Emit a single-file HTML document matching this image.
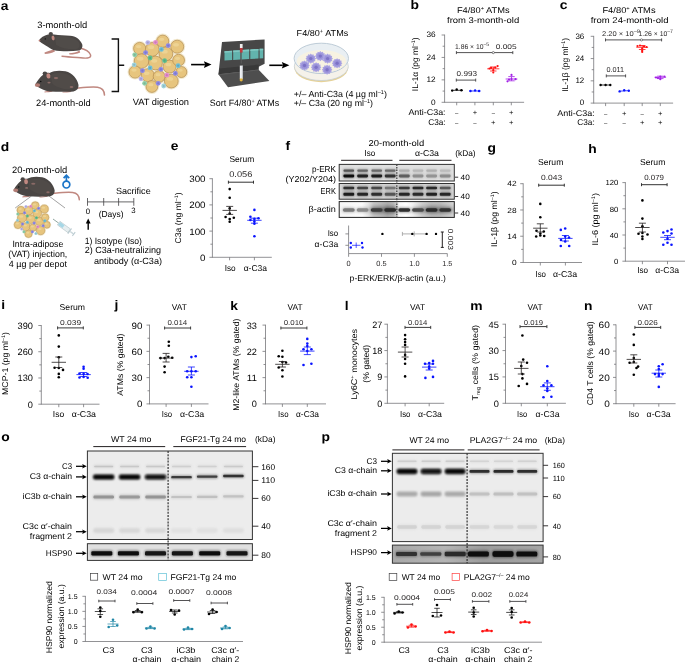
<!DOCTYPE html><html><head><meta charset="utf-8"><style>html,body{margin:0;padding:0;background:#fff;}svg{display:block;will-change:transform;}text{font-family:"Liberation Sans",sans-serif;text-rendering:geometricPrecision;}</style></head><body>
<svg width="685" height="664" viewBox="0 0 685 664">
<defs>
<filter id="blur0" x="-20%" y="-100%" width="140%" height="300%"><feGaussianBlur stdDeviation="0.55"/></filter>
<filter id="blur1" x="-20%" y="-100%" width="140%" height="300%"><feGaussianBlur stdDeviation="0.8"/></filter>
<filter id="blur2" x="-20%" y="-100%" width="140%" height="300%"><feGaussianBlur stdDeviation="1.1 0.9"/></filter>
<filter id="blur3" x="-50%" y="-50%" width="200%" height="200%"><feGaussianBlur stdDeviation="3"/></filter>
<filter id="blur5" x="-50%" y="-50%" width="200%" height="200%"><feGaussianBlur stdDeviation="5"/></filter>
</defs>
<rect width="685" height="664" fill="#fff"/>
<text transform="translate(0.80,9.70) scale(1.1,1)" x="0" y="0" font-size="12.6" font-weight="bold" fill="#000">a</text>
<text x="37.20" y="28.00" font-size="9.2" textLength="50.00" lengthAdjust="spacingAndGlyphs">3-month-old</text>
<text x="36.00" y="106.00" font-size="9.2" textLength="54.60" lengthAdjust="spacingAndGlyphs">24-month-old</text>
<g transform="translate(39.0,40.2) scale(1.0)">
<path d="M41,7.8 C46,9 50,11 51.5,14.5 C52.5,17.5 49,18.2 44,17.8 C38,17.3 30,16.8 23,16" fill="none" stroke="#c08880" stroke-width="1.4" stroke-linecap="round"/>
<path d="M5.5,12.4 C8,11.2 11,10.4 14.5,9.2 L16.2,11 C13,12.8 9.5,13.4 5.8,13.7 Z" fill="#c08880"/>
<path d="M30,13 C34,13 37.5,12 40.5,10.2 L41.2,12.2 C37.5,13.8 34,14.4 30.5,14.3 Z" fill="#c08880"/>
<path d="M0,0 C1.5,-2.2 5,-4.6 9,-5.6 C11,-6.4 13,-6.4 15,-5.6 C20,-5 26,-4.8 31,-4.5 C37,-4 41,-1 43.2,4 C44,7 42.5,9.5 40,10.4 C34,11.2 27,11.2 21,10.9 C16,10.6 13,9.6 11,8 C8,6 5,4.6 3,3.1 C1.5,2 0.3,1.2 0,0 Z" fill="#4a4644"/>
<path d="M16,-3.5 C24,-4.5 34,-3.5 39.5,1.5 C41.5,5 40.5,8 37,9 C30,9.5 22,8 17,4.5 Z" fill="#55504d" opacity="0.6"/>
<ellipse cx="11.8" cy="-6.4" rx="2.1" ry="1.9" fill="#4a4644"/>
<ellipse cx="14.1" cy="-2.2" rx="1.5" ry="2.4" fill="#c08880" transform="rotate(-12 14.1 -2.2)"/>
<circle cx="6.3" cy="-1.3" r="0.7" fill="#111"/>
<circle cx="0.5" cy="0.4" r="0.9" fill="#b8766e"/>
</g>
<g transform="translate(35.5,84.1) scale(1.0)">
<path d="M41.5,4.2 C48,3.5 56,2.5 62,3.2 C66.5,3.8 68.8,6.5 69,11" fill="none" stroke="#c08880" stroke-width="1.5" stroke-linecap="round"/>
<path d="M9,7.5 C11,7 14,6.5 16,6 L17,7.5 C14.5,8.3 12,8.4 9,8.4 Z" fill="#c08880"/>
<path d="M27,7.6 C30,7.6 33,7 35,6.4 L35.6,7.8 C33,8.4 30,8.5 27,8.5 Z" fill="#c08880"/>
<path d="M0,0 C2,-3.5 4.5,-7 8,-9.5 C10,-11 12,-11.5 14,-11.2 C18,-13.5 24,-14 30,-12.8 C37,-11 42,-5 43,1 C43.3,4.5 41.5,6.5 38,7.3 C32,7.8 22,7.8 14,7.3 C9,6.5 5,4.5 2.5,2.8 C1,1.8 0.2,1 0,0 Z" fill="#4a4644"/>
<path d="M15,-9 C22,-12.5 32,-11.5 37.5,-6 C41,-2 41,3 37,5 C30,6 22,4 17,0 Z" fill="#55504d" opacity="0.55"/>
<ellipse cx="9.4" cy="-10.6" rx="2.3" ry="2.1" fill="#4a4644"/>
<ellipse cx="12.9" cy="-8.2" rx="2" ry="2.7" fill="#c08880" transform="rotate(-10 12.9 -8.2)"/>
<circle cx="5.2" cy="-2.6" r="0.8" fill="#111"/>
<ellipse cx="2.0" cy="1.0" rx="2.7" ry="1.9" fill="#b27c74"/>
<ellipse cx="20.5" cy="-6" rx="2.2" ry="1.1" fill="#8a6a66"/>
<ellipse cx="13.5" cy="-1.5" rx="1.6" ry="0.9" fill="#8a6a66"/>
<ellipse cx="36" cy="3" rx="1.8" ry="1" fill="#8a6a66"/>
</g>
<path d="M111.6,39 H118.4 V91.5 H111.6 M118.4,65.3 H124.2" fill="none" stroke="#111" stroke-width="1.4"/>
<circle cx="139.70" cy="48.50" r="7.60" fill="#f3ead0"/>
<circle cx="152.30" cy="49.40" r="8.40" fill="#f3ead0"/>
<circle cx="162.70" cy="41.20" r="7.60" fill="#f3ead0"/>
<circle cx="177.20" cy="46.70" r="8.00" fill="#f3ead0"/>
<circle cx="165.90" cy="53.90" r="8.40" fill="#f3ead0"/>
<circle cx="141.50" cy="61.10" r="8.80" fill="#f3ead0"/>
<circle cx="155.50" cy="63.00" r="8.40" fill="#f3ead0"/>
<circle cx="169.50" cy="66.60" r="8.00" fill="#f3ead0"/>
<circle cx="178.60" cy="60.20" r="7.40" fill="#f3ead0"/>
<circle cx="135.10" cy="72.00" r="7.60" fill="#f3ead0"/>
<circle cx="147.80" cy="75.20" r="8.00" fill="#f3ead0"/>
<circle cx="159.10" cy="76.50" r="7.40" fill="#f3ead0"/>
<circle cx="171.30" cy="81.10" r="8.40" fill="#f3ead0"/>
<circle cx="181.30" cy="72.00" r="7.00" fill="#f3ead0"/>
<circle cx="151.90" cy="86.50" r="7.40" fill="#f3ead0"/>
<circle cx="139.70" cy="48.50" r="6.10" fill="#e7c57e" stroke="#b38d50" stroke-width="0.70"/>
<ellipse cx="138.62" cy="46.61" rx="2.70" ry="1.62" fill="#efd699" opacity="0.8"/>
<circle cx="152.30" cy="49.40" r="6.90" fill="#e7c57e" stroke="#b38d50" stroke-width="0.70"/>
<ellipse cx="151.06" cy="47.23" rx="3.10" ry="1.86" fill="#efd699" opacity="0.8"/>
<circle cx="162.70" cy="41.20" r="6.10" fill="#e7c57e" stroke="#b38d50" stroke-width="0.70"/>
<ellipse cx="161.62" cy="39.31" rx="2.70" ry="1.62" fill="#efd699" opacity="0.8"/>
<circle cx="177.20" cy="46.70" r="6.50" fill="#e7c57e" stroke="#b38d50" stroke-width="0.70"/>
<ellipse cx="176.04" cy="44.67" rx="2.90" ry="1.74" fill="#efd699" opacity="0.8"/>
<circle cx="165.90" cy="53.90" r="6.90" fill="#e7c57e" stroke="#b38d50" stroke-width="0.70"/>
<ellipse cx="164.66" cy="51.73" rx="3.10" ry="1.86" fill="#efd699" opacity="0.8"/>
<circle cx="141.50" cy="61.10" r="7.30" fill="#e7c57e" stroke="#b38d50" stroke-width="0.70"/>
<ellipse cx="140.18" cy="58.79" rx="3.30" ry="1.98" fill="#efd699" opacity="0.8"/>
<circle cx="155.50" cy="63.00" r="6.90" fill="#e7c57e" stroke="#b38d50" stroke-width="0.70"/>
<ellipse cx="154.26" cy="60.83" rx="3.10" ry="1.86" fill="#efd699" opacity="0.8"/>
<circle cx="169.50" cy="66.60" r="6.50" fill="#e7c57e" stroke="#b38d50" stroke-width="0.70"/>
<ellipse cx="168.34" cy="64.57" rx="2.90" ry="1.74" fill="#efd699" opacity="0.8"/>
<circle cx="178.60" cy="60.20" r="5.90" fill="#e7c57e" stroke="#b38d50" stroke-width="0.70"/>
<ellipse cx="177.56" cy="58.38" rx="2.60" ry="1.56" fill="#efd699" opacity="0.8"/>
<circle cx="135.10" cy="72.00" r="6.10" fill="#e7c57e" stroke="#b38d50" stroke-width="0.70"/>
<ellipse cx="134.02" cy="70.11" rx="2.70" ry="1.62" fill="#efd699" opacity="0.8"/>
<circle cx="147.80" cy="75.20" r="6.50" fill="#e7c57e" stroke="#b38d50" stroke-width="0.70"/>
<ellipse cx="146.64" cy="73.17" rx="2.90" ry="1.74" fill="#efd699" opacity="0.8"/>
<circle cx="159.10" cy="76.50" r="5.90" fill="#e7c57e" stroke="#b38d50" stroke-width="0.70"/>
<ellipse cx="158.06" cy="74.68" rx="2.60" ry="1.56" fill="#efd699" opacity="0.8"/>
<circle cx="171.30" cy="81.10" r="6.90" fill="#e7c57e" stroke="#b38d50" stroke-width="0.70"/>
<ellipse cx="170.06" cy="78.93" rx="3.10" ry="1.86" fill="#efd699" opacity="0.8"/>
<circle cx="181.30" cy="72.00" r="5.50" fill="#e7c57e" stroke="#b38d50" stroke-width="0.70"/>
<ellipse cx="180.34" cy="70.32" rx="2.40" ry="1.44" fill="#efd699" opacity="0.8"/>
<circle cx="151.90" cy="86.50" r="5.90" fill="#e7c57e" stroke="#b38d50" stroke-width="0.70"/>
<ellipse cx="150.86" cy="84.68" rx="2.60" ry="1.56" fill="#efd699" opacity="0.8"/>
<circle cx="155.50" cy="42.30" r="2.40" fill="#e58fcf"/>
<circle cx="155.50" cy="42.30" r="1.10" fill="#000" opacity="0.12"/>
<circle cx="166.80" cy="75.20" r="2.40" fill="#e58fcf"/>
<circle cx="166.80" cy="75.20" r="1.10" fill="#000" opacity="0.12"/>
<circle cx="168.20" cy="45.60" r="2.40" fill="#8e8ae8"/>
<circle cx="168.20" cy="45.60" r="1.10" fill="#000" opacity="0.12"/>
<circle cx="145.60" cy="52.60" r="2.40" fill="#8e8ae8"/>
<circle cx="145.60" cy="52.60" r="1.10" fill="#000" opacity="0.12"/>
<circle cx="160.90" cy="69.30" r="2.40" fill="#8e8ae8"/>
<circle cx="160.90" cy="69.30" r="1.10" fill="#000" opacity="0.12"/>
<circle cx="142.40" cy="70.70" r="2.40" fill="#8e8ae8"/>
<circle cx="142.40" cy="70.70" r="1.10" fill="#000" opacity="0.12"/>
<circle cx="175.40" cy="73.40" r="2.40" fill="#8e8ae8"/>
<circle cx="175.40" cy="73.40" r="1.10" fill="#000" opacity="0.12"/>
<circle cx="158.20" cy="83.30" r="2.40" fill="#8e8ae8"/>
<circle cx="158.20" cy="83.30" r="1.10" fill="#000" opacity="0.12"/>
<circle cx="147.80" cy="42.60" r="2.40" fill="#b9b5ec"/>
<circle cx="147.80" cy="42.60" r="1.10" fill="#000" opacity="0.12"/>
<circle cx="141.00" cy="78.80" r="2.40" fill="#b9b5ec"/>
<circle cx="141.00" cy="78.80" r="1.10" fill="#000" opacity="0.12"/>
<circle cx="161.40" cy="49.40" r="2.40" fill="#6fc0d8"/>
<circle cx="161.40" cy="49.40" r="1.10" fill="#000" opacity="0.12"/>
<circle cx="150.10" cy="67.90" r="2.40" fill="#6fc0d8"/>
<circle cx="150.10" cy="67.90" r="1.10" fill="#000" opacity="0.12"/>
<circle cx="178.10" cy="65.70" r="2.40" fill="#6fc0d8"/>
<circle cx="178.10" cy="65.70" r="1.10" fill="#000" opacity="0.12"/>
<circle cx="134.20" cy="64.80" r="2.40" fill="#9fd3dc"/>
<circle cx="134.20" cy="64.80" r="1.10" fill="#000" opacity="0.12"/>
<circle cx="163.70" cy="86.00" r="2.40" fill="#9fd3dc"/>
<circle cx="163.70" cy="86.00" r="1.10" fill="#000" opacity="0.12"/>
<circle cx="150.10" cy="58.00" r="2.40" fill="#5fbf8f"/>
<circle cx="150.10" cy="58.00" r="1.10" fill="#000" opacity="0.12"/>
<circle cx="164.60" cy="60.70" r="2.40" fill="#5fbf8f"/>
<circle cx="164.60" cy="60.70" r="1.10" fill="#000" opacity="0.12"/>
<circle cx="134.70" cy="54.80" r="2.40" fill="#8fd0aa"/>
<circle cx="134.70" cy="54.80" r="1.10" fill="#000" opacity="0.12"/>
<circle cx="144.60" cy="83.30" r="2.40" fill="#8fd0aa"/>
<circle cx="144.60" cy="83.30" r="1.10" fill="#000" opacity="0.12"/>
<text x="132.70" y="105.40" font-size="9.2" textLength="56.30" lengthAdjust="spacingAndGlyphs">VAT digestion</text>
<line x1="191.1" y1="64.6" x2="204.9" y2="64.6" stroke="#000" stroke-width="1.6"/>
<path d="M211.5,64.6 L203.9,61.3 L205.1,64.6 L203.9,67.89999999999999 Z" fill="#000"/>
<path d="M222,41.9 L264.6,39.5 L264.6,63.8 L258.7,66.8 L258.5,69.7 L218.4,74.5 Z" fill="#474747"/>
<path d="M219.6,68.6 L258.7,64.6 L258.5,69.7 L218.6,74.3 Z" fill="#393939"/>
<path d="M218.4,74.3 L258.4,69.6 L269.4,81.1 L228.0,87.2 Z" fill="#4e4e4e"/>
<path d="M218.6,74.2 L258.4,69.6 L259,70.4 L219.2,75.2 Z" fill="#5a5a5a"/>
<path d="M224.50,51.20 L232.10,50.70 L232.10,60.07 L224.50,60.50 Z" fill="#62b3ad"/>
<path d="M224.50,51.20 L232.10,50.70 L232.10,52.30 L224.50,52.80 Z" fill="#80c8c2"/>
<path d="M233.20,50.62 L240.40,50.15 L240.40,59.61 L233.20,60.01 Z" fill="#62b3ad"/>
<path d="M233.20,50.62 L240.40,50.15 L240.40,51.75 L233.20,52.22 Z" fill="#80c8c2"/>
<path d="M241.50,50.07 L249.20,49.56 L249.20,59.11 L241.50,59.55 Z" fill="#62b3ad"/>
<path d="M241.50,50.07 L249.20,49.56 L249.20,51.16 L241.50,51.67 Z" fill="#80c8c2"/>
<path d="M250.30,49.49 L258.50,48.94 L258.50,58.59 L250.30,59.05 Z" fill="#62b3ad"/>
<path d="M250.30,49.49 L258.50,48.94 L258.50,50.54 L250.30,51.09 Z" fill="#80c8c2"/>
<path d="M259.60,48.87 L263.20,48.63 L263.20,58.33 L259.60,58.53 Z" fill="#62b3ad"/>
<path d="M259.60,48.87 L263.20,48.63 L263.20,50.23 L259.60,50.47 Z" fill="#80c8c2"/>
<rect x="239.9" y="44" width="2.7" height="4.2" fill="#eeeeee"/>
<rect x="239.9" y="48" width="2.7" height="4.6" fill="#c2383d"/>
<line x1="241.25" y1="52.5" x2="241.25" y2="63.5" stroke="#6a6a6a" stroke-width="0.6"/>
<rect x="239.8" y="65.6" width="2.8" height="13.6" fill="#eef0f3"/>
<rect x="241.8" y="65.6" width="0.8" height="13.6" fill="#c8ccd2"/>
<path d="M239.8,78.6 H242.6 V80.8 Q241.2,82.4 239.8,80.8 Z" fill="#e4b53c"/>
<line x1="269.3" y1="65.3" x2="282.79999999999995" y2="65.3" stroke="#000" stroke-width="1.6"/>
<path d="M289.4,65.3 L281.79999999999995,62.0 L282.99999999999994,65.3 L281.79999999999995,68.6 Z" fill="#000"/>
<text x="209.80" y="106.00" font-size="9.2" textLength="69.40" lengthAdjust="spacingAndGlyphs">Sort F4/80<tspan dy="-3.2" font-size="5.5">+</tspan><tspan dy="3.2"> ATMs</tspan></text>
<ellipse cx="321.3" cy="67.6" rx="27" ry="14.6" fill="#e6d298"/>
<ellipse cx="321.3" cy="66.2" rx="27" ry="14.3" fill="#f5f2ea" stroke="#c3ced8" stroke-width="0.7"/>
<ellipse cx="321.3" cy="58.4" rx="27.2" ry="15.2" fill="#e9eff3" stroke="#b7c6d2" stroke-width="0.9"/>
<ellipse cx="321.5" cy="61.3" rx="24.8" ry="11.2" fill="#f7f2e2"/>
<polygon points="316.10,58.60 314.95,59.66 315.39,61.12 313.84,61.49 313.45,62.96 311.91,62.55 310.80,63.63 309.69,62.55 308.15,62.96 307.76,61.49 306.21,61.12 306.65,59.66 305.50,58.60 306.65,57.54 306.21,56.08 307.76,55.71 308.15,54.24 309.69,54.65 310.80,53.57 311.91,54.65 313.45,54.24 313.84,55.71 315.39,56.08 314.95,57.54" fill="#aaa3e2"/>
<circle cx="310.8" cy="58.6" r="3.2" fill="#9b93da"/>
<circle cx="310.8" cy="58.6" r="1.7" fill="#7d72c6"/>
<polygon points="325.60,56.10 324.45,57.16 324.89,58.62 323.34,58.99 322.95,60.46 321.41,60.05 320.30,61.13 319.19,60.05 317.65,60.46 317.26,58.99 315.71,58.62 316.15,57.16 315.00,56.10 316.15,55.04 315.71,53.58 317.26,53.21 317.65,51.74 319.19,52.15 320.30,51.07 321.41,52.15 322.95,51.74 323.34,53.21 324.89,53.58 324.45,55.04" fill="#aaa3e2"/>
<circle cx="320.3" cy="56.1" r="3.2" fill="#9b93da"/>
<circle cx="320.3" cy="56.1" r="1.7" fill="#7d72c6"/>
<polygon points="332.90,58.60 331.75,59.66 332.19,61.12 330.64,61.49 330.25,62.96 328.71,62.55 327.60,63.63 326.49,62.55 324.95,62.96 324.56,61.49 323.01,61.12 323.45,59.66 322.30,58.60 323.45,57.54 323.01,56.08 324.56,55.71 324.95,54.24 326.49,54.65 327.60,53.57 328.71,54.65 330.25,54.24 330.64,55.71 332.19,56.08 331.75,57.54" fill="#aaa3e2"/>
<circle cx="327.6" cy="58.6" r="3.2" fill="#9b93da"/>
<circle cx="327.6" cy="58.6" r="1.7" fill="#7d72c6"/>
<polygon points="342.40,63.30 341.25,64.36 341.69,65.82 340.14,66.19 339.75,67.66 338.21,67.25 337.10,68.33 335.99,67.25 334.45,67.66 334.06,66.19 332.51,65.82 332.95,64.36 331.80,63.30 332.95,62.24 332.51,60.78 334.06,60.41 334.45,58.94 335.99,59.35 337.10,58.27 338.21,59.35 339.75,58.94 340.14,60.41 341.69,60.78 341.25,62.24" fill="#aaa3e2"/>
<circle cx="337.1" cy="63.3" r="3.2" fill="#9b93da"/>
<circle cx="337.1" cy="63.3" r="1.7" fill="#7d72c6"/>
<polygon points="309.80,65.50 308.65,66.56 309.09,68.02 307.54,68.39 307.15,69.86 305.61,69.45 304.50,70.53 303.39,69.45 301.85,69.86 301.46,68.39 299.91,68.02 300.35,66.56 299.20,65.50 300.35,64.44 299.91,62.98 301.46,62.61 301.85,61.14 303.39,61.55 304.50,60.47 305.61,61.55 307.15,61.14 307.54,62.61 309.09,62.98 308.65,64.44" fill="#aaa3e2"/>
<circle cx="304.5" cy="65.5" r="3.2" fill="#9b93da"/>
<circle cx="304.5" cy="65.5" r="1.7" fill="#7d72c6"/>
<polygon points="321.40,67.30 320.25,68.36 320.69,69.82 319.14,70.19 318.75,71.66 317.21,71.25 316.10,72.33 314.99,71.25 313.45,71.66 313.06,70.19 311.51,69.82 311.95,68.36 310.80,67.30 311.95,66.24 311.51,64.78 313.06,64.41 313.45,62.94 314.99,63.35 316.10,62.27 317.21,63.35 318.75,62.94 319.14,64.41 320.69,64.78 320.25,66.24" fill="#aaa3e2"/>
<circle cx="316.1" cy="67.3" r="3.2" fill="#9b93da"/>
<circle cx="316.1" cy="67.3" r="1.7" fill="#7d72c6"/>
<polygon points="332.40,69.70 331.25,70.76 331.69,72.22 330.14,72.59 329.75,74.06 328.21,73.65 327.10,74.73 325.99,73.65 324.45,74.06 324.06,72.59 322.51,72.22 322.95,70.76 321.80,69.70 322.95,68.64 322.51,67.18 324.06,66.81 324.45,65.34 325.99,65.75 327.10,64.67 328.21,65.75 329.75,65.34 330.14,66.81 331.69,67.18 331.25,68.64" fill="#aaa3e2"/>
<circle cx="327.1" cy="69.7" r="3.2" fill="#9b93da"/>
<circle cx="327.1" cy="69.7" r="1.7" fill="#7d72c6"/>
<text x="296.60" y="36.10" font-size="8.6" textLength="51.70" lengthAdjust="spacingAndGlyphs">F4/80<tspan dy="-3.2" font-size="5.5">+</tspan><tspan dy="3.2"> ATMs</tspan></text>
<text x="293.80" y="96.70" font-size="8.8" textLength="93.10" lengthAdjust="spacingAndGlyphs">+/– Anti-C3a (4 µg ml<tspan dy="-3.2" font-size="5.5">–1</tspan><tspan dy="3.2">)</tspan></text>
<text x="293.80" y="105.90" font-size="8.8" textLength="79.20" lengthAdjust="spacingAndGlyphs">+/– C3a (20 ng ml<tspan dy="-3.2" font-size="5.5">–1</tspan><tspan dy="3.2">)</tspan></text>
<text transform="translate(0.80,150.50) scale(1.1,1)" x="0" y="0" font-size="12.6" font-weight="bold" fill="#000">d</text>
<text x="12.00" y="173.00" font-size="9.2" textLength="55.20" lengthAdjust="spacingAndGlyphs">20-month-old</text>
<g transform="translate(13.8,189.4) scale(0.95)">
<path d="M41.5,4.2 C48,3.5 56,2.5 62,3.2 C66.5,3.8 68.8,6.5 69,11" fill="none" stroke="#c08880" stroke-width="1.5" stroke-linecap="round"/>
<path d="M9,7.5 C11,7 14,6.5 16,6 L17,7.5 C14.5,8.3 12,8.4 9,8.4 Z" fill="#c08880"/>
<path d="M27,7.6 C30,7.6 33,7 35,6.4 L35.6,7.8 C33,8.4 30,8.5 27,8.5 Z" fill="#c08880"/>
<path d="M0,0 C2,-3.5 4.5,-7 8,-9.5 C10,-11 12,-11.5 14,-11.2 C18,-13.5 24,-14 30,-12.8 C37,-11 42,-5 43,1 C43.3,4.5 41.5,6.5 38,7.3 C32,7.8 22,7.8 14,7.3 C9,6.5 5,4.5 2.5,2.8 C1,1.8 0.2,1 0,0 Z" fill="#4a4644"/>
<path d="M15,-9 C22,-12.5 32,-11.5 37.5,-6 C41,-2 41,3 37,5 C30,6 22,4 17,0 Z" fill="#55504d" opacity="0.55"/>
<ellipse cx="9.4" cy="-10.6" rx="2.3" ry="2.1" fill="#4a4644"/>
<ellipse cx="12.9" cy="-8.2" rx="2" ry="2.7" fill="#c08880" transform="rotate(-10 12.9 -8.2)"/>
<circle cx="5.2" cy="-2.6" r="0.8" fill="#111"/>
<ellipse cx="2.0" cy="1.0" rx="2.7" ry="1.9" fill="#b27c74"/>
<ellipse cx="20.5" cy="-6" rx="2.2" ry="1.1" fill="#8a6a66"/>
<ellipse cx="13.5" cy="-1.5" rx="1.6" ry="0.9" fill="#8a6a66"/>
<ellipse cx="36" cy="3" rx="1.8" ry="1" fill="#8a6a66"/>
</g>
<g fill="none" stroke="#1b75c8" stroke-width="1.7"><circle cx="66.4" cy="184.6" r="3.4"/><path d="M66.4,181.2 V175.6 M63.6,178.2 L66.4,175.3 L69.2,178.2"/></g>
<line x1="31.50" y1="196.00" x2="15.20" y2="208.00" stroke="#444" stroke-width="0.5"/>
<line x1="49.00" y1="196.00" x2="65.00" y2="208.00" stroke="#444" stroke-width="0.5"/>
<circle cx="20.88" cy="210.13" r="4.74" fill="#f3ead0"/>
<circle cx="28.74" cy="210.69" r="5.24" fill="#f3ead0"/>
<circle cx="35.23" cy="205.57" r="4.74" fill="#f3ead0"/>
<circle cx="44.28" cy="209.00" r="4.99" fill="#f3ead0"/>
<circle cx="37.23" cy="213.50" r="5.24" fill="#f3ead0"/>
<circle cx="22.00" cy="217.99" r="5.49" fill="#f3ead0"/>
<circle cx="30.74" cy="219.18" r="5.24" fill="#f3ead0"/>
<circle cx="39.48" cy="221.42" r="4.99" fill="#f3ead0"/>
<circle cx="45.16" cy="217.43" r="4.62" fill="#f3ead0"/>
<circle cx="18.01" cy="224.79" r="4.74" fill="#f3ead0"/>
<circle cx="25.93" cy="226.79" r="4.99" fill="#f3ead0"/>
<circle cx="32.99" cy="227.60" r="4.62" fill="#f3ead0"/>
<circle cx="40.60" cy="230.47" r="5.24" fill="#f3ead0"/>
<circle cx="46.84" cy="224.79" r="4.37" fill="#f3ead0"/>
<circle cx="28.49" cy="233.84" r="4.62" fill="#f3ead0"/>
<circle cx="20.88" cy="210.13" r="3.81" fill="#e7c57e" stroke="#b38d50" stroke-width="0.47"/>
<ellipse cx="20.20" cy="208.95" rx="1.69" ry="1.01" fill="#efd699" opacity="0.8"/>
<circle cx="28.74" cy="210.69" r="4.31" fill="#e7c57e" stroke="#b38d50" stroke-width="0.47"/>
<ellipse cx="27.97" cy="209.33" rx="1.93" ry="1.16" fill="#efd699" opacity="0.8"/>
<circle cx="35.23" cy="205.57" r="3.81" fill="#e7c57e" stroke="#b38d50" stroke-width="0.47"/>
<ellipse cx="34.56" cy="204.39" rx="1.69" ry="1.01" fill="#efd699" opacity="0.8"/>
<circle cx="44.28" cy="209.00" r="4.06" fill="#e7c57e" stroke="#b38d50" stroke-width="0.47"/>
<ellipse cx="43.56" cy="207.74" rx="1.81" ry="1.09" fill="#efd699" opacity="0.8"/>
<circle cx="37.23" cy="213.50" r="4.31" fill="#e7c57e" stroke="#b38d50" stroke-width="0.47"/>
<ellipse cx="36.46" cy="212.14" rx="1.93" ry="1.16" fill="#efd699" opacity="0.8"/>
<circle cx="22.00" cy="217.99" r="4.56" fill="#e7c57e" stroke="#b38d50" stroke-width="0.47"/>
<ellipse cx="21.18" cy="216.55" rx="2.06" ry="1.24" fill="#efd699" opacity="0.8"/>
<circle cx="30.74" cy="219.18" r="4.31" fill="#e7c57e" stroke="#b38d50" stroke-width="0.47"/>
<ellipse cx="29.97" cy="217.82" rx="1.93" ry="1.16" fill="#efd699" opacity="0.8"/>
<circle cx="39.48" cy="221.42" r="4.06" fill="#e7c57e" stroke="#b38d50" stroke-width="0.47"/>
<ellipse cx="38.75" cy="220.16" rx="1.81" ry="1.09" fill="#efd699" opacity="0.8"/>
<circle cx="45.16" cy="217.43" r="3.68" fill="#e7c57e" stroke="#b38d50" stroke-width="0.47"/>
<ellipse cx="44.51" cy="216.29" rx="1.62" ry="0.97" fill="#efd699" opacity="0.8"/>
<circle cx="18.01" cy="224.79" r="3.81" fill="#e7c57e" stroke="#b38d50" stroke-width="0.47"/>
<ellipse cx="17.33" cy="223.61" rx="1.69" ry="1.01" fill="#efd699" opacity="0.8"/>
<circle cx="25.93" cy="226.79" r="4.06" fill="#e7c57e" stroke="#b38d50" stroke-width="0.47"/>
<ellipse cx="25.21" cy="225.52" rx="1.81" ry="1.09" fill="#efd699" opacity="0.8"/>
<circle cx="32.99" cy="227.60" r="3.68" fill="#e7c57e" stroke="#b38d50" stroke-width="0.47"/>
<ellipse cx="32.34" cy="226.47" rx="1.62" ry="0.97" fill="#efd699" opacity="0.8"/>
<circle cx="40.60" cy="230.47" r="4.31" fill="#e7c57e" stroke="#b38d50" stroke-width="0.47"/>
<ellipse cx="39.83" cy="229.12" rx="1.93" ry="1.16" fill="#efd699" opacity="0.8"/>
<circle cx="46.84" cy="224.79" r="3.43" fill="#e7c57e" stroke="#b38d50" stroke-width="0.47"/>
<ellipse cx="46.24" cy="223.74" rx="1.50" ry="0.90" fill="#efd699" opacity="0.8"/>
<circle cx="28.49" cy="233.84" r="3.68" fill="#e7c57e" stroke="#b38d50" stroke-width="0.47"/>
<ellipse cx="27.84" cy="232.71" rx="1.62" ry="0.97" fill="#efd699" opacity="0.8"/>
<circle cx="30.74" cy="206.26" r="1.50" fill="#e58fcf"/>
<circle cx="30.74" cy="206.26" r="0.69" fill="#000" opacity="0.12"/>
<circle cx="37.79" cy="226.79" r="1.50" fill="#e58fcf"/>
<circle cx="37.79" cy="226.79" r="0.69" fill="#000" opacity="0.12"/>
<circle cx="38.67" cy="208.32" r="1.50" fill="#8e8ae8"/>
<circle cx="38.67" cy="208.32" r="0.69" fill="#000" opacity="0.12"/>
<circle cx="24.56" cy="212.69" r="1.50" fill="#8e8ae8"/>
<circle cx="24.56" cy="212.69" r="0.69" fill="#000" opacity="0.12"/>
<circle cx="34.11" cy="223.11" r="1.50" fill="#8e8ae8"/>
<circle cx="34.11" cy="223.11" r="0.69" fill="#000" opacity="0.12"/>
<circle cx="22.56" cy="223.98" r="1.50" fill="#8e8ae8"/>
<circle cx="22.56" cy="223.98" r="0.69" fill="#000" opacity="0.12"/>
<circle cx="43.16" cy="225.67" r="1.50" fill="#8e8ae8"/>
<circle cx="43.16" cy="225.67" r="0.69" fill="#000" opacity="0.12"/>
<circle cx="32.42" cy="231.85" r="1.50" fill="#8e8ae8"/>
<circle cx="32.42" cy="231.85" r="0.69" fill="#000" opacity="0.12"/>
<circle cx="25.93" cy="206.44" r="1.50" fill="#b9b5ec"/>
<circle cx="25.93" cy="206.44" r="0.69" fill="#000" opacity="0.12"/>
<circle cx="21.69" cy="229.04" r="1.50" fill="#b9b5ec"/>
<circle cx="21.69" cy="229.04" r="0.69" fill="#000" opacity="0.12"/>
<circle cx="34.42" cy="210.69" r="1.50" fill="#6fc0d8"/>
<circle cx="34.42" cy="210.69" r="0.69" fill="#000" opacity="0.12"/>
<circle cx="27.37" cy="222.23" r="1.50" fill="#6fc0d8"/>
<circle cx="27.37" cy="222.23" r="0.69" fill="#000" opacity="0.12"/>
<circle cx="44.84" cy="220.86" r="1.50" fill="#6fc0d8"/>
<circle cx="44.84" cy="220.86" r="0.69" fill="#000" opacity="0.12"/>
<circle cx="17.45" cy="220.30" r="1.50" fill="#9fd3dc"/>
<circle cx="17.45" cy="220.30" r="0.69" fill="#000" opacity="0.12"/>
<circle cx="35.86" cy="233.53" r="1.50" fill="#9fd3dc"/>
<circle cx="35.86" cy="233.53" r="0.69" fill="#000" opacity="0.12"/>
<circle cx="27.37" cy="216.06" r="1.50" fill="#5fbf8f"/>
<circle cx="27.37" cy="216.06" r="0.69" fill="#000" opacity="0.12"/>
<circle cx="36.42" cy="217.74" r="1.50" fill="#5fbf8f"/>
<circle cx="36.42" cy="217.74" r="0.69" fill="#000" opacity="0.12"/>
<circle cx="17.76" cy="214.06" r="1.50" fill="#8fd0aa"/>
<circle cx="17.76" cy="214.06" r="0.69" fill="#000" opacity="0.12"/>
<circle cx="23.94" cy="231.85" r="1.50" fill="#8fd0aa"/>
<circle cx="23.94" cy="231.85" r="0.69" fill="#000" opacity="0.12"/>
<g transform="translate(53,219) rotate(36)"><line x1="0" y1="0" x2="7" y2="0" stroke="#5a7a70" stroke-width="0.6"/><rect x="7" y="-2.2" width="13" height="4.4" fill="#e6eef0" stroke="#a9b9be" stroke-width="0.5"/><rect x="7.5" y="-1.8" width="5.5" height="3.6" fill="#a6d7e6"/><rect x="20" y="-3.2" width="1.2" height="6.4" fill="#b8c9cf"/><rect x="21.2" y="-0.7" width="4" height="1.4" fill="#c8d6da"/><rect x="25.2" y="-2.4" width="1" height="4.8" fill="#b8c9cf"/></g>
<text x="37.90" y="246.90" font-size="9.0" text-anchor="middle" textLength="50.90" lengthAdjust="spacingAndGlyphs">Intra-adipose</text>
<text x="37.80" y="257.10" font-size="9.0" text-anchor="middle" textLength="59.00" lengthAdjust="spacingAndGlyphs">(VAT) injection,</text>
<text x="37.90" y="266.70" font-size="9.0" text-anchor="middle" textLength="58.20" lengthAdjust="spacingAndGlyphs">4 µg per depot</text>
<path d="M87.5,201.9 H133.8 M87.5,198 V205.8 M103.7,198 V205.8 M118.6,198 V205.8 M133.8,198 V205.8" stroke="#414042" stroke-width="0.8" fill="none"/>
<text x="115.90" y="194.20" font-size="9.0" textLength="34.80" lengthAdjust="spacingAndGlyphs">Sacrifice</text>
<text x="88.00" y="213.50" font-size="7.8" text-anchor="middle">0</text>
<text x="133.30" y="212.80" font-size="7.8" text-anchor="middle">3</text>
<text x="98.70" y="216.80" font-size="8.6" textLength="24.90" lengthAdjust="spacingAndGlyphs">(Days)</text>
<path d="M88.2,229.8 V222" stroke="#000" stroke-width="1.4"/><path d="M88.2,218.6 L85.8,223.5 L90.6,223.5 Z" fill="#000"/>
<text x="84.70" y="243.50" font-size="9.0" textLength="57.30" lengthAdjust="spacingAndGlyphs">1) Isotype (Iso)</text>
<text x="84.70" y="253.40" font-size="9.0" textLength="76.30" lengthAdjust="spacingAndGlyphs">2) C3a-neutralizing</text>
<text x="94.00" y="263.60" font-size="9.0" textLength="68.00" lengthAdjust="spacingAndGlyphs">antibody (α-C3a)</text>
<text transform="translate(410.40,9.40) scale(1.1,1)" x="0" y="0" font-size="12.6" font-weight="bold" fill="#000">b</text>
<text x="456.90" y="12.90" font-size="8.4" textLength="52.80" lengthAdjust="spacingAndGlyphs">F4/80<tspan dy="-3" font-size="5.2">+</tspan><tspan dy="3"> ATMs</tspan></text>
<text x="447.00" y="23.10" font-size="8.4" textLength="72.20" lengthAdjust="spacingAndGlyphs">from 3-month-old</text>
<line x1="444.60" y1="34.60" x2="444.60" y2="102.70" stroke="#6d6e71" stroke-width="0.75"/>
<line x1="441.60" y1="102.30" x2="444.60" y2="102.30" stroke="#6d6e71" stroke-width="0.75"/>
<text x="435.60" y="104.67" font-size="7.9" text-anchor="end" textLength="4.60" lengthAdjust="spacingAndGlyphs">0</text>
<line x1="442.60" y1="91.08" x2="444.60" y2="91.08" stroke="#6d6e71" stroke-width="0.75"/>
<line x1="441.60" y1="79.87" x2="444.60" y2="79.87" stroke="#6d6e71" stroke-width="0.75"/>
<text x="435.60" y="82.24" font-size="7.9" text-anchor="end" textLength="9.20" lengthAdjust="spacingAndGlyphs">12</text>
<line x1="442.60" y1="68.65" x2="444.60" y2="68.65" stroke="#6d6e71" stroke-width="0.75"/>
<line x1="441.60" y1="57.43" x2="444.60" y2="57.43" stroke="#6d6e71" stroke-width="0.75"/>
<text x="435.60" y="59.80" font-size="7.9" text-anchor="end" textLength="9.20" lengthAdjust="spacingAndGlyphs">24</text>
<line x1="442.60" y1="46.22" x2="444.60" y2="46.22" stroke="#6d6e71" stroke-width="0.75"/>
<line x1="441.60" y1="35.00" x2="444.60" y2="35.00" stroke="#6d6e71" stroke-width="0.75"/>
<text x="435.60" y="37.37" font-size="7.9" text-anchor="end" textLength="9.20" lengthAdjust="spacingAndGlyphs">36</text>
<line x1="444.60" y1="102.30" x2="524.10" y2="102.30" stroke="#6d6e71" stroke-width="0.75"/>
<line x1="456.70" y1="102.30" x2="456.70" y2="105.30" stroke="#6d6e71" stroke-width="0.75"/>
<line x1="474.90" y1="102.30" x2="474.90" y2="105.30" stroke="#6d6e71" stroke-width="0.75"/>
<line x1="493.30" y1="102.30" x2="493.30" y2="105.30" stroke="#6d6e71" stroke-width="0.75"/>
<line x1="511.30" y1="102.30" x2="511.30" y2="105.30" stroke="#6d6e71" stroke-width="0.75"/>
<text x="417.88" y="64.30" font-size="8.4" text-anchor="middle" textLength="53.70" lengthAdjust="spacingAndGlyphs" transform="rotate(-90 417.88 64.30)">IL-1α (pg ml<tspan dy="-3" font-size="5.2">–1</tspan><tspan dy="3">)</tspan></text>
<line x1="456.40" y1="52.60" x2="512.80" y2="52.60" stroke="#414042" stroke-width="0.9"/>
<line x1="456.40" y1="51.10" x2="456.40" y2="54.10" stroke="#414042" stroke-width="0.9"/>
<line x1="512.80" y1="51.10" x2="512.80" y2="54.10" stroke="#414042" stroke-width="0.9"/>
<circle cx="493.3" cy="52.6" r="1.1" fill="#fff" stroke="#414042" stroke-width="0.6"/>
<text x="455.00" y="48.80" font-size="6.9" fill="#2b2829" textLength="34.20" lengthAdjust="spacingAndGlyphs">1.86 × 10<tspan dy="-3" font-size="5.2">–5</tspan></text>
<text x="495.70" y="48.80" font-size="6.9" fill="#2b2829" textLength="20.90" lengthAdjust="spacingAndGlyphs">0.005</text>
<line x1="456.30" y1="80.10" x2="475.70" y2="80.10" stroke="#414042" stroke-width="0.9"/>
<line x1="456.30" y1="78.60" x2="456.30" y2="81.60" stroke="#414042" stroke-width="0.9"/>
<line x1="475.70" y1="78.60" x2="475.70" y2="81.60" stroke="#414042" stroke-width="0.9"/>
<text x="456.60" y="76.40" font-size="7.2" fill="#2b2829" textLength="20.40" lengthAdjust="spacingAndGlyphs">0.993</text>
<circle cx="452.20" cy="90.60" r="1.2" fill="#000"/>
<circle cx="456.70" cy="89.50" r="1.2" fill="#000"/>
<circle cx="461.40" cy="90.30" r="1.2" fill="#000"/>
<circle cx="470.50" cy="91.00" r="1.2" fill="#0a14ff"/>
<circle cx="475.10" cy="90.40" r="1.2" fill="#0a14ff"/>
<circle cx="479.10" cy="91.00" r="1.2" fill="#0a14ff"/>
<line x1="451.00" y1="90.30" x2="463.00" y2="90.30" stroke="#000" stroke-width="0.8"/>
<line x1="469.00" y1="91.00" x2="480.50" y2="91.00" stroke="#0a14ff" stroke-width="0.8"/>
<circle cx="497.60" cy="66.10" r="1.1" fill="#ff1010"/>
<circle cx="495.20" cy="67.60" r="1.1" fill="#ff1010"/>
<circle cx="491.10" cy="67.90" r="1.1" fill="#ff1010"/>
<circle cx="493.30" cy="72.50" r="1.1" fill="#ff1010"/>
<circle cx="493.30" cy="70.20" r="1.1" fill="#ff1010"/>
<circle cx="489.50" cy="68.50" r="1.1" fill="#ff1010"/>
<line x1="487.20" y1="68.80" x2="499.40" y2="68.80" stroke="#ff1010" stroke-width="0.8"/>
<line x1="493.30" y1="67.00" x2="493.30" y2="71.00" stroke="#ff1010" stroke-width="0.8"/>
<line x1="490.10" y1="67.00" x2="496.50" y2="67.00" stroke="#ff1010" stroke-width="0.8"/>
<line x1="490.10" y1="71.00" x2="496.50" y2="71.00" stroke="#ff1010" stroke-width="0.8"/>
<circle cx="511.50" cy="74.90" r="1.1" fill="#a21fe6"/>
<circle cx="507.50" cy="81.30" r="1.1" fill="#a21fe6"/>
<circle cx="515.50" cy="79.20" r="1.1" fill="#a21fe6"/>
<circle cx="511.50" cy="79.00" r="1.1" fill="#a21fe6"/>
<circle cx="509.00" cy="79.50" r="1.1" fill="#a21fe6"/>
<line x1="505.60" y1="79.00" x2="517.40" y2="79.00" stroke="#a21fe6" stroke-width="0.8"/>
<line x1="511.50" y1="76.60" x2="511.50" y2="80.80" stroke="#a21fe6" stroke-width="0.8"/>
<line x1="508.30" y1="76.60" x2="514.70" y2="76.60" stroke="#a21fe6" stroke-width="0.8"/>
<line x1="508.30" y1="80.80" x2="514.70" y2="80.80" stroke="#a21fe6" stroke-width="0.8"/>
<text x="445.60" y="115.30" font-size="8.4" text-anchor="end" textLength="37.20" lengthAdjust="spacingAndGlyphs">Anti-C3a:</text>
<text x="445.60" y="124.50" font-size="8.4" text-anchor="end" textLength="17.40" lengthAdjust="spacingAndGlyphs">C3a:</text>
<text x="456.70" y="115.30" font-size="6.0" text-anchor="middle">–</text>
<text x="456.70" y="124.50" font-size="6.0" text-anchor="middle">–</text>
<text x="474.90" y="115.30" font-size="7.6" text-anchor="middle">+</text>
<text x="474.90" y="124.50" font-size="6.0" text-anchor="middle">–</text>
<text x="493.30" y="115.30" font-size="6.0" text-anchor="middle">–</text>
<text x="493.30" y="124.50" font-size="7.6" text-anchor="middle">+</text>
<text x="511.30" y="115.30" font-size="7.6" text-anchor="middle">+</text>
<text x="511.30" y="124.50" font-size="7.6" text-anchor="middle">+</text>
<text transform="translate(559.70,9.40) scale(1.1,1)" x="0" y="0" font-size="12.6" font-weight="bold" fill="#000">c</text>
<text x="602.40" y="12.90" font-size="8.4" textLength="53.20" lengthAdjust="spacingAndGlyphs">F4/80<tspan dy="-3" font-size="5.2">+</tspan><tspan dy="3"> ATMs</tspan></text>
<text x="590.70" y="23.00" font-size="8.4" textLength="77.80" lengthAdjust="spacingAndGlyphs">from 24-month-old</text>
<line x1="593.70" y1="35.90" x2="593.70" y2="103.50" stroke="#6d6e71" stroke-width="0.75"/>
<line x1="590.70" y1="103.10" x2="593.70" y2="103.10" stroke="#6d6e71" stroke-width="0.75"/>
<text x="584.30" y="105.47" font-size="7.9" text-anchor="end" textLength="4.45" lengthAdjust="spacingAndGlyphs">0</text>
<line x1="591.70" y1="91.97" x2="593.70" y2="91.97" stroke="#6d6e71" stroke-width="0.75"/>
<line x1="590.70" y1="80.83" x2="593.70" y2="80.83" stroke="#6d6e71" stroke-width="0.75"/>
<text x="584.30" y="83.20" font-size="7.9" text-anchor="end" textLength="8.90" lengthAdjust="spacingAndGlyphs">12</text>
<line x1="591.70" y1="69.70" x2="593.70" y2="69.70" stroke="#6d6e71" stroke-width="0.75"/>
<line x1="590.70" y1="58.57" x2="593.70" y2="58.57" stroke="#6d6e71" stroke-width="0.75"/>
<text x="584.30" y="60.94" font-size="7.9" text-anchor="end" textLength="8.90" lengthAdjust="spacingAndGlyphs">24</text>
<line x1="591.70" y1="47.43" x2="593.70" y2="47.43" stroke="#6d6e71" stroke-width="0.75"/>
<line x1="590.70" y1="36.30" x2="593.70" y2="36.30" stroke="#6d6e71" stroke-width="0.75"/>
<text x="584.30" y="38.67" font-size="7.9" text-anchor="end" textLength="8.90" lengthAdjust="spacingAndGlyphs">36</text>
<line x1="593.70" y1="103.10" x2="673.10" y2="103.10" stroke="#6d6e71" stroke-width="0.75"/>
<line x1="605.60" y1="103.10" x2="605.60" y2="106.10" stroke="#6d6e71" stroke-width="0.75"/>
<line x1="624.20" y1="103.10" x2="624.20" y2="106.10" stroke="#6d6e71" stroke-width="0.75"/>
<line x1="642.20" y1="103.10" x2="642.20" y2="106.10" stroke="#6d6e71" stroke-width="0.75"/>
<line x1="660.30" y1="103.10" x2="660.30" y2="106.10" stroke="#6d6e71" stroke-width="0.75"/>
<text x="567.68" y="64.90" font-size="8.4" text-anchor="middle" textLength="53.70" lengthAdjust="spacingAndGlyphs" transform="rotate(-90 567.68 64.90)">IL-1β (pg ml<tspan dy="-3" font-size="5.2">–1</tspan><tspan dy="3">)</tspan></text>
<line x1="605.50" y1="39.90" x2="661.60" y2="39.90" stroke="#414042" stroke-width="0.9"/>
<line x1="605.50" y1="38.40" x2="605.50" y2="41.40" stroke="#414042" stroke-width="0.9"/>
<line x1="661.60" y1="38.40" x2="661.60" y2="41.40" stroke="#414042" stroke-width="0.9"/>
<circle cx="641.5" cy="39.9" r="1.1" fill="#fff" stroke="#414042" stroke-width="0.6"/>
<text x="602.00" y="35.80" font-size="6.9" fill="#2b2829" textLength="38.00" lengthAdjust="spacingAndGlyphs">2.20 × 10<tspan dy="-3" font-size="5.2">–9</tspan></text>
<text x="638.50" y="35.80" font-size="6.9" fill="#2b2829" textLength="34.50" lengthAdjust="spacingAndGlyphs">1.26 × 10<tspan dy="-3" font-size="5.2">–7</tspan></text>
<line x1="606.30" y1="75.90" x2="625.60" y2="75.90" stroke="#414042" stroke-width="0.9"/>
<line x1="606.30" y1="74.40" x2="606.30" y2="77.40" stroke="#414042" stroke-width="0.9"/>
<line x1="625.60" y1="74.40" x2="625.60" y2="77.40" stroke="#414042" stroke-width="0.9"/>
<text x="606.40" y="72.20" font-size="7.2" fill="#2b2829" textLength="17.60" lengthAdjust="spacingAndGlyphs">0.011</text>
<circle cx="600.60" cy="85.00" r="1.2" fill="#000"/>
<circle cx="605.60" cy="85.00" r="1.2" fill="#000"/>
<circle cx="610.30" cy="85.00" r="1.2" fill="#000"/>
<line x1="600.00" y1="85.00" x2="611.00" y2="85.00" stroke="#000" stroke-width="0.8"/>
<circle cx="619.60" cy="91.40" r="1.2" fill="#0a14ff"/>
<circle cx="624.20" cy="90.30" r="1.2" fill="#0a14ff"/>
<circle cx="628.80" cy="90.80" r="1.2" fill="#0a14ff"/>
<line x1="619.00" y1="91.20" x2="629.50" y2="90.60" stroke="#0a14ff" stroke-width="0.8"/>
<circle cx="637.50" cy="46.00" r="1.1" fill="#ff1010"/>
<circle cx="640.00" cy="45.50" r="1.1" fill="#ff1010"/>
<circle cx="644.00" cy="46.50" r="1.1" fill="#ff1010"/>
<circle cx="646.50" cy="47.00" r="1.1" fill="#ff1010"/>
<circle cx="642.20" cy="48.50" r="1.1" fill="#ff1010"/>
<circle cx="642.20" cy="50.50" r="1.1" fill="#ff1010"/>
<circle cx="642.20" cy="51.90" r="1.1" fill="#ff1010"/>
<line x1="636.30" y1="47.30" x2="648.10" y2="47.30" stroke="#ff1010" stroke-width="0.8"/>
<line x1="642.20" y1="45.50" x2="642.20" y2="49.50" stroke="#ff1010" stroke-width="0.8"/>
<line x1="638.90" y1="45.50" x2="645.50" y2="45.50" stroke="#ff1010" stroke-width="0.8"/>
<line x1="638.90" y1="49.50" x2="645.50" y2="49.50" stroke="#ff1010" stroke-width="0.8"/>
<circle cx="656.00" cy="77.50" r="1.1" fill="#a21fe6"/>
<circle cx="660.30" cy="76.50" r="1.1" fill="#a21fe6"/>
<circle cx="664.50" cy="76.50" r="1.1" fill="#a21fe6"/>
<circle cx="660.30" cy="79.20" r="1.1" fill="#a21fe6"/>
<circle cx="658.00" cy="78.00" r="1.1" fill="#a21fe6"/>
<line x1="654.50" y1="77.30" x2="666.10" y2="77.30" stroke="#a21fe6" stroke-width="0.8"/>
<line x1="660.30" y1="76.20" x2="660.30" y2="78.60" stroke="#a21fe6" stroke-width="0.8"/>
<line x1="657.10" y1="76.20" x2="663.50" y2="76.20" stroke="#a21fe6" stroke-width="0.8"/>
<line x1="657.10" y1="78.60" x2="663.50" y2="78.60" stroke="#a21fe6" stroke-width="0.8"/>
<text x="594.70" y="115.80" font-size="8.4" text-anchor="end" textLength="37.40" lengthAdjust="spacingAndGlyphs">Anti-C3a:</text>
<text x="594.70" y="124.90" font-size="8.4" text-anchor="end" textLength="17.40" lengthAdjust="spacingAndGlyphs">C3a:</text>
<text x="605.60" y="115.80" font-size="6.0" text-anchor="middle">–</text>
<text x="605.60" y="124.90" font-size="6.0" text-anchor="middle">–</text>
<text x="624.20" y="115.80" font-size="7.6" text-anchor="middle">+</text>
<text x="624.20" y="124.90" font-size="6.0" text-anchor="middle">–</text>
<text x="642.20" y="115.80" font-size="6.0" text-anchor="middle">–</text>
<text x="642.20" y="124.90" font-size="7.6" text-anchor="middle">+</text>
<text x="660.30" y="115.80" font-size="7.6" text-anchor="middle">+</text>
<text x="660.30" y="124.90" font-size="7.6" text-anchor="middle">+</text>
<text transform="translate(170.80,150.00) scale(1.1,1)" x="0" y="0" font-size="12.6" font-weight="bold" fill="#000">e</text>
<text x="229.50" y="162.10" font-size="8.6" textLength="24.80" lengthAdjust="spacingAndGlyphs">Serum</text>
<text x="229.20" y="176.90" font-size="8.3" fill="#2b2829" textLength="23.10" lengthAdjust="spacingAndGlyphs">0.056</text>
<line x1="228.40" y1="182.20" x2="253.50" y2="182.20" stroke="#333" stroke-width="1.0"/>
<line x1="228.40" y1="180.70" x2="228.40" y2="183.70" stroke="#333" stroke-width="1.0"/>
<line x1="253.50" y1="180.70" x2="253.50" y2="183.70" stroke="#333" stroke-width="1.0"/>
<line x1="212.40" y1="178.30" x2="212.40" y2="257.70" stroke="#6d6e71" stroke-width="0.75"/>
<line x1="209.40" y1="257.30" x2="212.40" y2="257.30" stroke="#6d6e71" stroke-width="0.75"/>
<text x="205.60" y="260.70" font-size="9.2" text-anchor="end" textLength="5.47" lengthAdjust="spacingAndGlyphs">0</text>
<line x1="210.40" y1="244.20" x2="212.40" y2="244.20" stroke="#6d6e71" stroke-width="0.75"/>
<line x1="209.40" y1="231.10" x2="212.40" y2="231.10" stroke="#6d6e71" stroke-width="0.75"/>
<text x="205.60" y="234.50" font-size="9.2" text-anchor="end" textLength="16.41" lengthAdjust="spacingAndGlyphs">100</text>
<line x1="210.40" y1="218.00" x2="212.40" y2="218.00" stroke="#6d6e71" stroke-width="0.75"/>
<line x1="209.40" y1="204.90" x2="212.40" y2="204.90" stroke="#6d6e71" stroke-width="0.75"/>
<text x="205.60" y="208.30" font-size="9.2" text-anchor="end" textLength="16.41" lengthAdjust="spacingAndGlyphs">200</text>
<line x1="210.40" y1="191.80" x2="212.40" y2="191.80" stroke="#6d6e71" stroke-width="0.75"/>
<line x1="209.40" y1="178.70" x2="212.40" y2="178.70" stroke="#6d6e71" stroke-width="0.75"/>
<text x="205.60" y="182.10" font-size="9.2" text-anchor="end" textLength="16.41" lengthAdjust="spacingAndGlyphs">300</text>
<line x1="212.40" y1="257.30" x2="271.80" y2="257.30" stroke="#6d6e71" stroke-width="0.75"/>
<line x1="229.60" y1="257.30" x2="229.60" y2="260.30" stroke="#6d6e71" stroke-width="0.75"/>
<line x1="254.40" y1="257.30" x2="254.40" y2="260.30" stroke="#6d6e71" stroke-width="0.75"/>
<text x="224.70" y="270.50" font-size="8.6" textLength="11.00" lengthAdjust="spacingAndGlyphs">Iso</text>
<text x="243.70" y="270.50" font-size="8.6" textLength="23.30" lengthAdjust="spacingAndGlyphs">α-C3a</text>
<text x="180.88" y="217.90" font-size="8.4" text-anchor="middle" textLength="51.00" lengthAdjust="spacingAndGlyphs" transform="rotate(-90 180.88 217.90)">C3a (ng ml<tspan dy="-3" font-size="5.2">–1</tspan><tspan dy="3">)</tspan></text>
<circle cx="229.70" cy="189.10" r="1.3" fill="#000"/>
<circle cx="229.70" cy="197.70" r="1.3" fill="#000"/>
<circle cx="229.70" cy="208.40" r="1.3" fill="#000"/>
<circle cx="229.70" cy="213.50" r="1.3" fill="#000"/>
<circle cx="225.60" cy="217.00" r="1.3" fill="#000"/>
<circle cx="233.80" cy="217.80" r="1.3" fill="#000"/>
<circle cx="229.70" cy="219.10" r="1.3" fill="#000"/>
<circle cx="229.70" cy="221.80" r="1.3" fill="#000"/>
<line x1="222.50" y1="210.40" x2="236.90" y2="210.40" stroke="#231f20" stroke-width="0.8"/>
<line x1="229.70" y1="206.40" x2="229.70" y2="214.40" stroke="#231f20" stroke-width="0.8"/>
<line x1="226.20" y1="206.40" x2="233.20" y2="206.40" stroke="#231f20" stroke-width="0.8"/>
<line x1="226.20" y1="214.40" x2="233.20" y2="214.40" stroke="#231f20" stroke-width="0.8"/>
<circle cx="254.40" cy="209.90" r="1.3" fill="#0a14ff"/>
<circle cx="250.40" cy="216.70" r="1.3" fill="#0a14ff"/>
<circle cx="258.50" cy="218.20" r="1.3" fill="#0a14ff"/>
<circle cx="250.40" cy="219.90" r="1.3" fill="#0a14ff"/>
<circle cx="254.40" cy="218.90" r="1.3" fill="#0a14ff"/>
<circle cx="254.40" cy="221.60" r="1.3" fill="#0a14ff"/>
<circle cx="254.40" cy="223.70" r="1.3" fill="#0a14ff"/>
<circle cx="254.40" cy="236.30" r="1.3" fill="#0a14ff"/>
<line x1="247.20" y1="220.30" x2="261.60" y2="220.30" stroke="#0a14ff" stroke-width="0.8"/>
<line x1="254.40" y1="218.20" x2="254.40" y2="223.20" stroke="#0a14ff" stroke-width="0.8"/>
<line x1="250.90" y1="218.20" x2="257.90" y2="218.20" stroke="#0a14ff" stroke-width="0.8"/>
<line x1="250.90" y1="223.20" x2="257.90" y2="223.20" stroke="#0a14ff" stroke-width="0.8"/>
<text transform="translate(487.60,152.40) scale(1.1,1)" x="0" y="0" font-size="12.6" font-weight="bold" fill="#000">g</text>
<text x="538.00" y="165.30" font-size="8.6" textLength="25.30" lengthAdjust="spacingAndGlyphs">Serum</text>
<text x="541.00" y="180.40" font-size="7.4" fill="#2b2829" textLength="21.10" lengthAdjust="spacingAndGlyphs">0.043</text>
<line x1="538.70" y1="185.20" x2="564.30" y2="185.20" stroke="#333" stroke-width="1.0"/>
<line x1="538.70" y1="183.70" x2="538.70" y2="186.70" stroke="#333" stroke-width="1.0"/>
<line x1="564.30" y1="183.70" x2="564.30" y2="186.70" stroke="#333" stroke-width="1.0"/>
<line x1="523.20" y1="183.30" x2="523.20" y2="262.90" stroke="#6d6e71" stroke-width="0.75"/>
<line x1="520.20" y1="262.50" x2="523.20" y2="262.50" stroke="#6d6e71" stroke-width="0.75"/>
<text x="516.60" y="265.27" font-size="7.5" text-anchor="end" textLength="4.65" lengthAdjust="spacingAndGlyphs">0</text>
<line x1="521.20" y1="249.37" x2="523.20" y2="249.37" stroke="#6d6e71" stroke-width="0.75"/>
<line x1="520.20" y1="236.23" x2="523.20" y2="236.23" stroke="#6d6e71" stroke-width="0.75"/>
<text x="516.60" y="239.01" font-size="7.5" text-anchor="end" textLength="9.30" lengthAdjust="spacingAndGlyphs">14</text>
<line x1="521.20" y1="223.10" x2="523.20" y2="223.10" stroke="#6d6e71" stroke-width="0.75"/>
<line x1="520.20" y1="209.97" x2="523.20" y2="209.97" stroke="#6d6e71" stroke-width="0.75"/>
<text x="516.60" y="212.74" font-size="7.5" text-anchor="end" textLength="9.30" lengthAdjust="spacingAndGlyphs">28</text>
<line x1="521.20" y1="196.83" x2="523.20" y2="196.83" stroke="#6d6e71" stroke-width="0.75"/>
<line x1="520.20" y1="183.70" x2="523.20" y2="183.70" stroke="#6d6e71" stroke-width="0.75"/>
<text x="516.60" y="186.47" font-size="7.5" text-anchor="end" textLength="9.30" lengthAdjust="spacingAndGlyphs">42</text>
<line x1="523.20" y1="262.50" x2="582.00" y2="262.50" stroke="#6d6e71" stroke-width="0.75"/>
<line x1="540.30" y1="262.50" x2="540.30" y2="265.50" stroke="#6d6e71" stroke-width="0.75"/>
<line x1="565.40" y1="262.50" x2="565.40" y2="265.50" stroke="#6d6e71" stroke-width="0.75"/>
<text x="535.50" y="277.40" font-size="8.6" textLength="10.50" lengthAdjust="spacingAndGlyphs">Iso</text>
<text x="553.00" y="277.40" font-size="8.6" textLength="24.10" lengthAdjust="spacingAndGlyphs">α-C3a</text>
<text x="496.88" y="219.20" font-size="8.4" text-anchor="middle" textLength="55.50" lengthAdjust="spacingAndGlyphs" transform="rotate(-90 496.88 219.20)">IL-1β (pg ml<tspan dy="-3" font-size="5.2">–1</tspan><tspan dy="3">)</tspan></text>
<circle cx="540.30" cy="203.90" r="1.3" fill="#000"/>
<circle cx="540.30" cy="217.20" r="1.3" fill="#000"/>
<circle cx="536.50" cy="230.70" r="1.3" fill="#000"/>
<circle cx="543.80" cy="231.50" r="1.3" fill="#000"/>
<circle cx="540.30" cy="233.50" r="1.3" fill="#000"/>
<circle cx="536.20" cy="236.50" r="1.3" fill="#000"/>
<circle cx="540.30" cy="235.50" r="1.3" fill="#000"/>
<circle cx="544.20" cy="236.00" r="1.3" fill="#000"/>
<line x1="533.10" y1="228.20" x2="547.50" y2="228.20" stroke="#231f20" stroke-width="0.8"/>
<line x1="540.30" y1="223.80" x2="540.30" y2="232.00" stroke="#231f20" stroke-width="0.8"/>
<line x1="536.80" y1="223.80" x2="543.80" y2="223.80" stroke="#231f20" stroke-width="0.8"/>
<line x1="536.80" y1="232.00" x2="543.80" y2="232.00" stroke="#231f20" stroke-width="0.8"/>
<circle cx="560.80" cy="229.90" r="1.3" fill="#0a14ff"/>
<circle cx="565.20" cy="228.50" r="1.3" fill="#0a14ff"/>
<circle cx="565.20" cy="236.60" r="1.3" fill="#0a14ff"/>
<circle cx="561.00" cy="240.00" r="1.3" fill="#0a14ff"/>
<circle cx="569.00" cy="237.50" r="1.3" fill="#0a14ff"/>
<circle cx="560.80" cy="246.00" r="1.3" fill="#0a14ff"/>
<circle cx="569.20" cy="246.00" r="1.3" fill="#0a14ff"/>
<circle cx="565.20" cy="241.50" r="1.3" fill="#0a14ff"/>
<line x1="558.20" y1="238.40" x2="572.60" y2="238.40" stroke="#0a14ff" stroke-width="0.8"/>
<line x1="565.40" y1="235.50" x2="565.40" y2="241.00" stroke="#0a14ff" stroke-width="0.8"/>
<line x1="561.90" y1="235.50" x2="568.90" y2="235.50" stroke="#0a14ff" stroke-width="0.8"/>
<line x1="561.90" y1="241.00" x2="568.90" y2="241.00" stroke="#0a14ff" stroke-width="0.8"/>
<text transform="translate(588.30,152.90) scale(1.1,1)" x="0" y="0" font-size="12.6" font-weight="bold" fill="#000">h</text>
<text x="640.00" y="164.80" font-size="8.6" textLength="25.30" lengthAdjust="spacingAndGlyphs">Serum</text>
<text x="644.20" y="179.90" font-size="7.4" fill="#2b2829" textLength="19.80" lengthAdjust="spacingAndGlyphs">0.079</text>
<line x1="641.50" y1="184.70" x2="667.10" y2="184.70" stroke="#333" stroke-width="1.0"/>
<line x1="641.50" y1="183.20" x2="641.50" y2="186.20" stroke="#333" stroke-width="1.0"/>
<line x1="667.10" y1="183.20" x2="667.10" y2="186.20" stroke="#333" stroke-width="1.0"/>
<line x1="625.40" y1="182.20" x2="625.40" y2="261.60" stroke="#6d6e71" stroke-width="0.75"/>
<line x1="622.40" y1="261.20" x2="625.40" y2="261.20" stroke="#6d6e71" stroke-width="0.75"/>
<text x="618.40" y="263.94" font-size="7.4" text-anchor="end" textLength="4.30" lengthAdjust="spacingAndGlyphs">0</text>
<line x1="623.40" y1="248.10" x2="625.40" y2="248.10" stroke="#6d6e71" stroke-width="0.75"/>
<line x1="622.40" y1="235.00" x2="625.40" y2="235.00" stroke="#6d6e71" stroke-width="0.75"/>
<text x="618.40" y="237.74" font-size="7.4" text-anchor="end" textLength="8.60" lengthAdjust="spacingAndGlyphs">40</text>
<line x1="623.40" y1="221.90" x2="625.40" y2="221.90" stroke="#6d6e71" stroke-width="0.75"/>
<line x1="622.40" y1="208.80" x2="625.40" y2="208.80" stroke="#6d6e71" stroke-width="0.75"/>
<text x="618.40" y="211.54" font-size="7.4" text-anchor="end" textLength="8.60" lengthAdjust="spacingAndGlyphs">80</text>
<line x1="623.40" y1="195.70" x2="625.40" y2="195.70" stroke="#6d6e71" stroke-width="0.75"/>
<line x1="622.40" y1="182.60" x2="625.40" y2="182.60" stroke="#6d6e71" stroke-width="0.75"/>
<text x="618.40" y="185.34" font-size="7.4" text-anchor="end" textLength="12.90" lengthAdjust="spacingAndGlyphs">120</text>
<line x1="625.40" y1="261.20" x2="685.00" y2="261.20" stroke="#6d6e71" stroke-width="0.75"/>
<line x1="642.40" y1="261.20" x2="642.40" y2="264.20" stroke="#6d6e71" stroke-width="0.75"/>
<line x1="667.50" y1="261.20" x2="667.50" y2="264.20" stroke="#6d6e71" stroke-width="0.75"/>
<text x="637.30" y="273.40" font-size="8.6" textLength="10.80" lengthAdjust="spacingAndGlyphs">Iso</text>
<text x="655.30" y="273.40" font-size="8.6" textLength="23.70" lengthAdjust="spacingAndGlyphs">α-C3a</text>
<text x="598.28" y="219.30" font-size="8.4" text-anchor="middle" textLength="52.50" lengthAdjust="spacingAndGlyphs" transform="rotate(-90 598.28 219.30)">IL-6 (pg ml<tspan dy="-3" font-size="5.2">–1</tspan><tspan dy="3">)</tspan></text>
<circle cx="642.40" cy="200.40" r="1.3" fill="#000"/>
<circle cx="642.40" cy="218.60" r="1.3" fill="#000"/>
<circle cx="642.40" cy="226.20" r="1.3" fill="#000"/>
<circle cx="638.50" cy="233.80" r="1.3" fill="#000"/>
<circle cx="647.50" cy="234.50" r="1.3" fill="#000"/>
<circle cx="642.40" cy="233.00" r="1.3" fill="#000"/>
<circle cx="642.40" cy="236.50" r="1.3" fill="#000"/>
<circle cx="642.40" cy="239.00" r="1.3" fill="#000"/>
<line x1="635.20" y1="227.50" x2="649.60" y2="227.50" stroke="#231f20" stroke-width="0.8"/>
<line x1="642.40" y1="223.20" x2="642.40" y2="232.00" stroke="#231f20" stroke-width="0.8"/>
<line x1="638.90" y1="223.20" x2="645.90" y2="223.20" stroke="#231f20" stroke-width="0.8"/>
<line x1="638.90" y1="232.00" x2="645.90" y2="232.00" stroke="#231f20" stroke-width="0.8"/>
<circle cx="663.30" cy="232.50" r="1.3" fill="#0a14ff"/>
<circle cx="667.50" cy="231.10" r="1.3" fill="#0a14ff"/>
<circle cx="671.50" cy="229.50" r="1.3" fill="#0a14ff"/>
<circle cx="671.50" cy="233.50" r="1.3" fill="#0a14ff"/>
<circle cx="667.50" cy="238.80" r="1.3" fill="#0a14ff"/>
<circle cx="663.30" cy="244.70" r="1.3" fill="#0a14ff"/>
<circle cx="667.50" cy="242.80" r="1.3" fill="#0a14ff"/>
<circle cx="671.50" cy="244.70" r="1.3" fill="#0a14ff"/>
<line x1="660.30" y1="237.30" x2="674.70" y2="237.30" stroke="#0a14ff" stroke-width="0.8"/>
<line x1="667.50" y1="235.50" x2="667.50" y2="239.70" stroke="#0a14ff" stroke-width="0.8"/>
<line x1="664.00" y1="235.50" x2="671.00" y2="235.50" stroke="#0a14ff" stroke-width="0.8"/>
<line x1="664.00" y1="239.70" x2="671.00" y2="239.70" stroke="#0a14ff" stroke-width="0.8"/>
<text transform="translate(1.30,309.20) scale(1.1,1)" x="0" y="0" font-size="12.6" font-weight="bold" fill="#000">i</text>
<text x="59.60" y="309.60" font-size="8.5" textLength="25.50" lengthAdjust="spacingAndGlyphs">Serum</text>
<text x="60.00" y="324.80" font-size="7.0" fill="#2b2829" textLength="21.30" lengthAdjust="spacingAndGlyphs">0.039</text>
<line x1="57.60" y1="327.90" x2="83.30" y2="327.90" stroke="#3a3a3a" stroke-width="1.0"/>
<line x1="57.60" y1="326.40" x2="57.60" y2="329.40" stroke="#3a3a3a" stroke-width="1.0"/>
<line x1="83.30" y1="326.40" x2="83.30" y2="329.40" stroke="#3a3a3a" stroke-width="1.0"/>
<line x1="41.30" y1="325.10" x2="41.30" y2="404.60" stroke="#6d6e71" stroke-width="0.75"/>
<line x1="38.30" y1="404.20" x2="41.30" y2="404.20" stroke="#6d6e71" stroke-width="0.75"/>
<text x="33.00" y="407.60" font-size="9.2" text-anchor="end" textLength="5.13" lengthAdjust="spacingAndGlyphs">0</text>
<line x1="39.30" y1="391.08" x2="41.30" y2="391.08" stroke="#6d6e71" stroke-width="0.75"/>
<line x1="38.30" y1="377.97" x2="41.30" y2="377.97" stroke="#6d6e71" stroke-width="0.75"/>
<text x="33.00" y="381.37" font-size="9.2" text-anchor="end" textLength="15.39" lengthAdjust="spacingAndGlyphs">130</text>
<line x1="39.30" y1="364.85" x2="41.30" y2="364.85" stroke="#6d6e71" stroke-width="0.75"/>
<line x1="38.30" y1="351.73" x2="41.30" y2="351.73" stroke="#6d6e71" stroke-width="0.75"/>
<text x="33.00" y="355.14" font-size="9.2" text-anchor="end" textLength="15.39" lengthAdjust="spacingAndGlyphs">260</text>
<line x1="39.30" y1="338.62" x2="41.30" y2="338.62" stroke="#6d6e71" stroke-width="0.75"/>
<line x1="38.30" y1="325.50" x2="41.30" y2="325.50" stroke="#6d6e71" stroke-width="0.75"/>
<text x="33.00" y="328.90" font-size="9.2" text-anchor="end" textLength="15.39" lengthAdjust="spacingAndGlyphs">390</text>
<line x1="41.30" y1="404.20" x2="99.50" y2="404.20" stroke="#6d6e71" stroke-width="0.75"/>
<line x1="58.80" y1="404.20" x2="58.80" y2="407.20" stroke="#6d6e71" stroke-width="0.75"/>
<line x1="83.60" y1="404.20" x2="83.60" y2="407.20" stroke="#6d6e71" stroke-width="0.75"/>
<text x="52.80" y="417.40" font-size="8.6" textLength="11.40" lengthAdjust="spacingAndGlyphs">Iso</text>
<text x="71.80" y="417.40" font-size="8.6" textLength="24.20" lengthAdjust="spacingAndGlyphs">α-C3a</text>
<text x="8.08" y="363.50" font-size="8.4" text-anchor="middle" textLength="63.00" lengthAdjust="spacingAndGlyphs" transform="rotate(-90 8.08 363.50)">MCP-1 (pg ml<tspan dy="-3" font-size="5.2">–1</tspan><tspan dy="3">)</tspan></text>
<circle cx="58.80" cy="335.40" r="1.3" fill="#000"/>
<circle cx="58.80" cy="346.60" r="1.3" fill="#000"/>
<circle cx="58.80" cy="357.20" r="1.3" fill="#000"/>
<circle cx="54.60" cy="367.70" r="1.3" fill="#000"/>
<circle cx="58.80" cy="368.00" r="1.3" fill="#000"/>
<circle cx="63.00" cy="369.90" r="1.3" fill="#000"/>
<circle cx="58.80" cy="373.90" r="1.3" fill="#000"/>
<circle cx="58.80" cy="377.20" r="1.3" fill="#000"/>
<line x1="51.60" y1="362.30" x2="66.00" y2="362.30" stroke="#231f20" stroke-width="0.8"/>
<line x1="58.80" y1="357.00" x2="58.80" y2="367.50" stroke="#231f20" stroke-width="0.8"/>
<line x1="55.30" y1="357.00" x2="62.30" y2="357.00" stroke="#231f20" stroke-width="0.8"/>
<line x1="55.30" y1="367.50" x2="62.30" y2="367.50" stroke="#231f20" stroke-width="0.8"/>
<circle cx="83.60" cy="366.80" r="1.3" fill="#0a14ff"/>
<circle cx="83.60" cy="368.80" r="1.3" fill="#0a14ff"/>
<circle cx="79.50" cy="373.50" r="1.3" fill="#0a14ff"/>
<circle cx="83.60" cy="374.00" r="1.3" fill="#0a14ff"/>
<circle cx="87.50" cy="374.00" r="1.3" fill="#0a14ff"/>
<circle cx="79.50" cy="377.50" r="1.3" fill="#0a14ff"/>
<circle cx="83.60" cy="377.00" r="1.3" fill="#0a14ff"/>
<circle cx="87.70" cy="377.80" r="1.3" fill="#0a14ff"/>
<line x1="76.40" y1="374.60" x2="90.80" y2="374.60" stroke="#0a14ff" stroke-width="0.8"/>
<line x1="83.60" y1="372.50" x2="83.60" y2="376.50" stroke="#0a14ff" stroke-width="0.8"/>
<line x1="80.10" y1="372.50" x2="87.10" y2="372.50" stroke="#0a14ff" stroke-width="0.8"/>
<line x1="80.10" y1="376.50" x2="87.10" y2="376.50" stroke="#0a14ff" stroke-width="0.8"/>
<text transform="translate(114.60,309.40) scale(1.1,1)" x="0" y="0" font-size="12.6" font-weight="bold" fill="#000">j</text>
<text x="171.80" y="309.70" font-size="8.5" textLength="15.00" lengthAdjust="spacingAndGlyphs">VAT</text>
<text x="167.40" y="325.10" font-size="7.0" fill="#2b2829" textLength="19.80" lengthAdjust="spacingAndGlyphs">0.014</text>
<line x1="164.60" y1="328.00" x2="190.60" y2="328.00" stroke="#3a3a3a" stroke-width="1.0"/>
<line x1="164.60" y1="326.50" x2="164.60" y2="329.50" stroke="#3a3a3a" stroke-width="1.0"/>
<line x1="190.60" y1="326.50" x2="190.60" y2="329.50" stroke="#3a3a3a" stroke-width="1.0"/>
<line x1="149.50" y1="324.70" x2="149.50" y2="404.30" stroke="#6d6e71" stroke-width="0.75"/>
<line x1="146.50" y1="403.90" x2="149.50" y2="403.90" stroke="#6d6e71" stroke-width="0.75"/>
<text x="142.40" y="407.30" font-size="9.2" text-anchor="end" textLength="5.45" lengthAdjust="spacingAndGlyphs">0</text>
<line x1="147.50" y1="390.77" x2="149.50" y2="390.77" stroke="#6d6e71" stroke-width="0.75"/>
<line x1="146.50" y1="377.63" x2="149.50" y2="377.63" stroke="#6d6e71" stroke-width="0.75"/>
<text x="142.40" y="381.04" font-size="9.2" text-anchor="end" textLength="10.90" lengthAdjust="spacingAndGlyphs">30</text>
<line x1="147.50" y1="364.50" x2="149.50" y2="364.50" stroke="#6d6e71" stroke-width="0.75"/>
<line x1="146.50" y1="351.37" x2="149.50" y2="351.37" stroke="#6d6e71" stroke-width="0.75"/>
<text x="142.40" y="354.77" font-size="9.2" text-anchor="end" textLength="10.90" lengthAdjust="spacingAndGlyphs">60</text>
<line x1="147.50" y1="338.23" x2="149.50" y2="338.23" stroke="#6d6e71" stroke-width="0.75"/>
<line x1="146.50" y1="325.10" x2="149.50" y2="325.10" stroke="#6d6e71" stroke-width="0.75"/>
<text x="142.40" y="328.50" font-size="9.2" text-anchor="end" textLength="10.90" lengthAdjust="spacingAndGlyphs">90</text>
<line x1="149.50" y1="403.90" x2="208.50" y2="403.90" stroke="#6d6e71" stroke-width="0.75"/>
<line x1="166.10" y1="403.90" x2="166.10" y2="406.90" stroke="#6d6e71" stroke-width="0.75"/>
<line x1="191.40" y1="403.90" x2="191.40" y2="406.90" stroke="#6d6e71" stroke-width="0.75"/>
<text x="161.80" y="417.40" font-size="8.6" textLength="10.30" lengthAdjust="spacingAndGlyphs">Iso</text>
<text x="180.00" y="417.40" font-size="8.6" textLength="24.20" lengthAdjust="spacingAndGlyphs">α-C3a</text>
<text x="123.38" y="364.70" font-size="8.4" text-anchor="middle" textLength="62.20" lengthAdjust="spacingAndGlyphs" transform="rotate(-90 123.38 364.70)">ATMs (% gated)</text>
<circle cx="168.80" cy="341.70" r="1.3" fill="#000"/>
<circle cx="168.80" cy="345.80" r="1.3" fill="#000"/>
<circle cx="160.50" cy="358.10" r="1.3" fill="#000"/>
<circle cx="164.60" cy="358.10" r="1.3" fill="#000"/>
<circle cx="168.30" cy="356.80" r="1.3" fill="#000"/>
<circle cx="172.20" cy="357.70" r="1.3" fill="#000"/>
<circle cx="164.60" cy="366.60" r="1.3" fill="#000"/>
<circle cx="164.60" cy="372.20" r="1.3" fill="#000"/>
<line x1="158.90" y1="358.10" x2="173.30" y2="358.10" stroke="#231f20" stroke-width="0.8"/>
<line x1="166.10" y1="353.40" x2="166.10" y2="362.00" stroke="#231f20" stroke-width="0.8"/>
<line x1="162.60" y1="353.40" x2="169.60" y2="353.40" stroke="#231f20" stroke-width="0.8"/>
<line x1="162.60" y1="362.00" x2="169.60" y2="362.00" stroke="#231f20" stroke-width="0.8"/>
<circle cx="191.40" cy="357.10" r="1.3" fill="#0a14ff"/>
<circle cx="195.70" cy="356.20" r="1.3" fill="#0a14ff"/>
<circle cx="187.20" cy="371.30" r="1.3" fill="#0a14ff"/>
<circle cx="191.40" cy="371.30" r="1.3" fill="#0a14ff"/>
<circle cx="195.70" cy="371.30" r="1.3" fill="#0a14ff"/>
<circle cx="187.20" cy="377.30" r="1.3" fill="#0a14ff"/>
<circle cx="191.40" cy="377.30" r="1.3" fill="#0a14ff"/>
<circle cx="191.40" cy="386.70" r="1.3" fill="#0a14ff"/>
<line x1="184.20" y1="371.30" x2="198.60" y2="371.30" stroke="#0a14ff" stroke-width="0.8"/>
<line x1="191.40" y1="367.00" x2="191.40" y2="375.00" stroke="#0a14ff" stroke-width="0.8"/>
<line x1="187.90" y1="367.00" x2="194.90" y2="367.00" stroke="#0a14ff" stroke-width="0.8"/>
<line x1="187.90" y1="375.00" x2="194.90" y2="375.00" stroke="#0a14ff" stroke-width="0.8"/>
<text transform="translate(230.30,309.50) scale(1.1,1)" x="0" y="0" font-size="12.6" font-weight="bold" fill="#000">k</text>
<text x="287.50" y="309.70" font-size="8.5" textLength="15.10" lengthAdjust="spacingAndGlyphs">VAT</text>
<text x="283.70" y="325.10" font-size="7.0" fill="#2b2829" textLength="19.80" lengthAdjust="spacingAndGlyphs">0.010</text>
<line x1="280.90" y1="328.00" x2="306.90" y2="328.00" stroke="#3a3a3a" stroke-width="1.0"/>
<line x1="280.90" y1="326.50" x2="280.90" y2="329.50" stroke="#3a3a3a" stroke-width="1.0"/>
<line x1="306.90" y1="326.50" x2="306.90" y2="329.50" stroke="#3a3a3a" stroke-width="1.0"/>
<line x1="265.50" y1="324.70" x2="265.50" y2="404.30" stroke="#6d6e71" stroke-width="0.75"/>
<line x1="262.50" y1="403.90" x2="265.50" y2="403.90" stroke="#6d6e71" stroke-width="0.75"/>
<text x="256.90" y="407.30" font-size="9.2" text-anchor="end" textLength="5.10" lengthAdjust="spacingAndGlyphs">0</text>
<line x1="263.50" y1="390.77" x2="265.50" y2="390.77" stroke="#6d6e71" stroke-width="0.75"/>
<line x1="262.50" y1="377.63" x2="265.50" y2="377.63" stroke="#6d6e71" stroke-width="0.75"/>
<text x="256.90" y="381.04" font-size="9.2" text-anchor="end" textLength="10.20" lengthAdjust="spacingAndGlyphs">11</text>
<line x1="263.50" y1="364.50" x2="265.50" y2="364.50" stroke="#6d6e71" stroke-width="0.75"/>
<line x1="262.50" y1="351.37" x2="265.50" y2="351.37" stroke="#6d6e71" stroke-width="0.75"/>
<text x="256.90" y="354.77" font-size="9.2" text-anchor="end" textLength="10.20" lengthAdjust="spacingAndGlyphs">22</text>
<line x1="263.50" y1="338.23" x2="265.50" y2="338.23" stroke="#6d6e71" stroke-width="0.75"/>
<line x1="262.50" y1="325.10" x2="265.50" y2="325.10" stroke="#6d6e71" stroke-width="0.75"/>
<text x="256.90" y="328.50" font-size="9.2" text-anchor="end" textLength="10.20" lengthAdjust="spacingAndGlyphs">33</text>
<line x1="265.50" y1="403.90" x2="326.00" y2="403.90" stroke="#6d6e71" stroke-width="0.75"/>
<line x1="282.40" y1="403.90" x2="282.40" y2="406.90" stroke="#6d6e71" stroke-width="0.75"/>
<line x1="307.30" y1="403.90" x2="307.30" y2="406.90" stroke="#6d6e71" stroke-width="0.75"/>
<text x="278.10" y="417.40" font-size="8.6" textLength="10.40" lengthAdjust="spacingAndGlyphs">Iso</text>
<text x="296.00" y="417.40" font-size="8.6" textLength="23.00" lengthAdjust="spacingAndGlyphs">α-C3a</text>
<text x="238.78" y="364.70" font-size="8.4" text-anchor="middle" textLength="92.30" lengthAdjust="spacingAndGlyphs" transform="rotate(-90 238.78 364.70)">M2-like ATMs (% gated)</text>
<circle cx="282.40" cy="350.70" r="1.3" fill="#000"/>
<circle cx="278.70" cy="356.20" r="1.3" fill="#000"/>
<circle cx="282.40" cy="356.80" r="1.3" fill="#000"/>
<circle cx="278.70" cy="367.50" r="1.3" fill="#000"/>
<circle cx="282.40" cy="362.00" r="1.3" fill="#000"/>
<circle cx="282.40" cy="370.30" r="1.3" fill="#000"/>
<circle cx="282.40" cy="376.50" r="1.3" fill="#000"/>
<circle cx="286.00" cy="362.50" r="1.3" fill="#000"/>
<line x1="275.20" y1="364.30" x2="289.60" y2="364.30" stroke="#231f20" stroke-width="0.8"/>
<line x1="282.40" y1="361.50" x2="282.40" y2="367.00" stroke="#231f20" stroke-width="0.8"/>
<line x1="278.90" y1="361.50" x2="285.90" y2="361.50" stroke="#231f20" stroke-width="0.8"/>
<line x1="278.90" y1="367.00" x2="285.90" y2="367.00" stroke="#231f20" stroke-width="0.8"/>
<circle cx="307.30" cy="338.90" r="1.3" fill="#0a14ff"/>
<circle cx="307.30" cy="343.60" r="1.3" fill="#0a14ff"/>
<circle cx="303.50" cy="349.20" r="1.3" fill="#0a14ff"/>
<circle cx="311.40" cy="349.20" r="1.3" fill="#0a14ff"/>
<circle cx="307.30" cy="351.00" r="1.3" fill="#0a14ff"/>
<circle cx="303.50" cy="365.00" r="1.3" fill="#0a14ff"/>
<circle cx="311.40" cy="363.70" r="1.3" fill="#0a14ff"/>
<circle cx="307.30" cy="346.00" r="1.3" fill="#0a14ff"/>
<line x1="300.10" y1="351.10" x2="314.50" y2="351.10" stroke="#0a14ff" stroke-width="0.8"/>
<line x1="307.30" y1="347.00" x2="307.30" y2="354.60" stroke="#0a14ff" stroke-width="0.8"/>
<line x1="303.80" y1="347.00" x2="310.80" y2="347.00" stroke="#0a14ff" stroke-width="0.8"/>
<line x1="303.80" y1="354.60" x2="310.80" y2="354.60" stroke="#0a14ff" stroke-width="0.8"/>
<text transform="translate(344.70,309.50) scale(1.1,1)" x="0" y="0" font-size="12.6" font-weight="bold" fill="#000">l</text>
<text x="410.00" y="309.70" font-size="8.5" textLength="15.00" lengthAdjust="spacingAndGlyphs">VAT</text>
<text x="408.00" y="324.80" font-size="7.0" fill="#2b2829" textLength="19.30" lengthAdjust="spacingAndGlyphs">0.014</text>
<line x1="405.00" y1="327.40" x2="430.70" y2="327.40" stroke="#3a3a3a" stroke-width="1.0"/>
<line x1="405.00" y1="325.90" x2="405.00" y2="328.90" stroke="#3a3a3a" stroke-width="1.0"/>
<line x1="430.70" y1="325.90" x2="430.70" y2="328.90" stroke="#3a3a3a" stroke-width="1.0"/>
<line x1="387.40" y1="323.80" x2="387.40" y2="403.70" stroke="#6d6e71" stroke-width="0.75"/>
<line x1="384.40" y1="403.30" x2="387.40" y2="403.30" stroke="#6d6e71" stroke-width="0.75"/>
<text x="382.40" y="406.70" font-size="9.2" text-anchor="end" textLength="5.05" lengthAdjust="spacingAndGlyphs">0</text>
<line x1="385.40" y1="390.12" x2="387.40" y2="390.12" stroke="#6d6e71" stroke-width="0.75"/>
<line x1="384.40" y1="376.93" x2="387.40" y2="376.93" stroke="#6d6e71" stroke-width="0.75"/>
<text x="382.40" y="380.34" font-size="9.2" text-anchor="end" textLength="5.05" lengthAdjust="spacingAndGlyphs">9</text>
<line x1="385.40" y1="363.75" x2="387.40" y2="363.75" stroke="#6d6e71" stroke-width="0.75"/>
<line x1="384.40" y1="350.57" x2="387.40" y2="350.57" stroke="#6d6e71" stroke-width="0.75"/>
<text x="382.40" y="353.97" font-size="9.2" text-anchor="end" textLength="10.10" lengthAdjust="spacingAndGlyphs">18</text>
<line x1="385.40" y1="337.38" x2="387.40" y2="337.38" stroke="#6d6e71" stroke-width="0.75"/>
<line x1="384.40" y1="324.20" x2="387.40" y2="324.20" stroke="#6d6e71" stroke-width="0.75"/>
<text x="382.40" y="327.60" font-size="9.2" text-anchor="end" textLength="10.10" lengthAdjust="spacingAndGlyphs">27</text>
<line x1="387.40" y1="403.30" x2="444.20" y2="403.30" stroke="#6d6e71" stroke-width="0.75"/>
<line x1="405.10" y1="403.30" x2="405.10" y2="406.30" stroke="#6d6e71" stroke-width="0.75"/>
<line x1="429.20" y1="403.30" x2="429.20" y2="406.30" stroke="#6d6e71" stroke-width="0.75"/>
<text x="400.00" y="417.40" font-size="8.6" textLength="10.50" lengthAdjust="spacingAndGlyphs">Iso</text>
<text x="417.90" y="417.40" font-size="8.6" textLength="24.10" lengthAdjust="spacingAndGlyphs">α-C3a</text>
<text x="356.88" y="364.20" font-size="8.4" text-anchor="middle" textLength="70.60" lengthAdjust="spacingAndGlyphs" transform="rotate(-90 356.88 364.20)">Ly6C<tspan dy="-3" font-size="5.2">+</tspan><tspan dy="3"> monocytes</tspan></text>
<text x="368.78" y="363.80" font-size="8.4" text-anchor="middle" textLength="37.70" lengthAdjust="spacingAndGlyphs" transform="rotate(-90 368.78 363.80)">(% gated)</text>
<circle cx="405.10" cy="335.10" r="1.3" fill="#000"/>
<circle cx="405.10" cy="339.30" r="1.3" fill="#000"/>
<circle cx="405.10" cy="342.00" r="1.3" fill="#000"/>
<circle cx="405.10" cy="344.90" r="1.3" fill="#000"/>
<circle cx="405.10" cy="354.90" r="1.3" fill="#000"/>
<circle cx="405.10" cy="359.00" r="1.3" fill="#000"/>
<circle cx="405.10" cy="363.70" r="1.3" fill="#000"/>
<circle cx="405.10" cy="376.40" r="1.3" fill="#000"/>
<line x1="397.90" y1="352.10" x2="412.30" y2="352.10" stroke="#231f20" stroke-width="0.8"/>
<line x1="405.10" y1="347.00" x2="405.10" y2="357.00" stroke="#231f20" stroke-width="0.8"/>
<line x1="401.60" y1="347.00" x2="408.60" y2="347.00" stroke="#231f20" stroke-width="0.8"/>
<line x1="401.60" y1="357.00" x2="408.60" y2="357.00" stroke="#231f20" stroke-width="0.8"/>
<circle cx="425.00" cy="363.70" r="1.3" fill="#0a14ff"/>
<circle cx="429.20" cy="363.00" r="1.3" fill="#0a14ff"/>
<circle cx="433.00" cy="360.90" r="1.3" fill="#0a14ff"/>
<circle cx="429.20" cy="366.50" r="1.3" fill="#0a14ff"/>
<circle cx="433.00" cy="363.70" r="1.3" fill="#0a14ff"/>
<circle cx="425.40" cy="377.90" r="1.3" fill="#0a14ff"/>
<circle cx="433.00" cy="376.90" r="1.3" fill="#0a14ff"/>
<circle cx="429.20" cy="368.50" r="1.3" fill="#0a14ff"/>
<line x1="422.00" y1="367.10" x2="436.40" y2="367.10" stroke="#0a14ff" stroke-width="0.8"/>
<line x1="429.20" y1="364.00" x2="429.20" y2="370.00" stroke="#0a14ff" stroke-width="0.8"/>
<line x1="425.70" y1="364.00" x2="432.70" y2="364.00" stroke="#0a14ff" stroke-width="0.8"/>
<line x1="425.70" y1="370.00" x2="432.70" y2="370.00" stroke="#0a14ff" stroke-width="0.8"/>
<text transform="translate(470.30,309.50) scale(1.1,1)" x="0" y="0" font-size="12.6" font-weight="bold" fill="#000">m</text>
<text x="527.50" y="309.70" font-size="8.5" textLength="15.10" lengthAdjust="spacingAndGlyphs">VAT</text>
<text x="523.70" y="324.80" font-size="7.0" fill="#2b2829" textLength="19.40" lengthAdjust="spacingAndGlyphs">0.019</text>
<line x1="520.00" y1="326.60" x2="546.90" y2="326.60" stroke="#3a3a3a" stroke-width="1.0"/>
<line x1="520.00" y1="325.10" x2="520.00" y2="328.10" stroke="#3a3a3a" stroke-width="1.0"/>
<line x1="546.90" y1="325.10" x2="546.90" y2="328.10" stroke="#3a3a3a" stroke-width="1.0"/>
<line x1="505.50" y1="323.80" x2="505.50" y2="403.70" stroke="#6d6e71" stroke-width="0.75"/>
<line x1="502.50" y1="403.30" x2="505.50" y2="403.30" stroke="#6d6e71" stroke-width="0.75"/>
<text x="498.90" y="406.70" font-size="9.2" text-anchor="end" textLength="5.15" lengthAdjust="spacingAndGlyphs">0</text>
<line x1="503.50" y1="390.12" x2="505.50" y2="390.12" stroke="#6d6e71" stroke-width="0.75"/>
<line x1="502.50" y1="376.93" x2="505.50" y2="376.93" stroke="#6d6e71" stroke-width="0.75"/>
<text x="498.90" y="380.34" font-size="9.2" text-anchor="end" textLength="10.30" lengthAdjust="spacingAndGlyphs">15</text>
<line x1="503.50" y1="363.75" x2="505.50" y2="363.75" stroke="#6d6e71" stroke-width="0.75"/>
<line x1="502.50" y1="350.57" x2="505.50" y2="350.57" stroke="#6d6e71" stroke-width="0.75"/>
<text x="498.90" y="353.97" font-size="9.2" text-anchor="end" textLength="10.30" lengthAdjust="spacingAndGlyphs">30</text>
<line x1="503.50" y1="337.38" x2="505.50" y2="337.38" stroke="#6d6e71" stroke-width="0.75"/>
<line x1="502.50" y1="324.20" x2="505.50" y2="324.20" stroke="#6d6e71" stroke-width="0.75"/>
<text x="498.90" y="327.60" font-size="9.2" text-anchor="end" textLength="10.30" lengthAdjust="spacingAndGlyphs">45</text>
<line x1="505.50" y1="403.30" x2="565.90" y2="403.30" stroke="#6d6e71" stroke-width="0.75"/>
<line x1="521.30" y1="403.30" x2="521.30" y2="406.30" stroke="#6d6e71" stroke-width="0.75"/>
<line x1="547.30" y1="403.30" x2="547.30" y2="406.30" stroke="#6d6e71" stroke-width="0.75"/>
<text x="517.10" y="417.40" font-size="8.6" textLength="10.00" lengthAdjust="spacingAndGlyphs">Iso</text>
<text x="535.60" y="417.40" font-size="8.6" textLength="23.90" lengthAdjust="spacingAndGlyphs">α-C3a</text>
<text x="478.18" y="362.80" font-size="8.4" text-anchor="middle" textLength="75.40" lengthAdjust="spacingAndGlyphs" transform="rotate(-90 478.18 362.80)">T<tspan dy="2" font-size="5.2">reg</tspan><tspan dy="-2"> cells (% gated)</tspan></text>
<circle cx="522.40" cy="335.50" r="1.3" fill="#000"/>
<circle cx="523.20" cy="359.60" r="1.3" fill="#000"/>
<circle cx="527.00" cy="362.80" r="1.3" fill="#000"/>
<circle cx="521.30" cy="366.00" r="1.3" fill="#000"/>
<circle cx="522.40" cy="374.10" r="1.3" fill="#000"/>
<circle cx="522.40" cy="378.40" r="1.3" fill="#000"/>
<circle cx="518.70" cy="386.00" r="1.3" fill="#000"/>
<circle cx="527.00" cy="383.90" r="1.3" fill="#000"/>
<line x1="514.10" y1="368.40" x2="528.50" y2="368.40" stroke="#231f20" stroke-width="0.8"/>
<line x1="521.30" y1="362.00" x2="521.30" y2="374.00" stroke="#231f20" stroke-width="0.8"/>
<line x1="517.80" y1="362.00" x2="524.80" y2="362.00" stroke="#231f20" stroke-width="0.8"/>
<line x1="517.80" y1="374.00" x2="524.80" y2="374.00" stroke="#231f20" stroke-width="0.8"/>
<circle cx="547.30" cy="366.20" r="1.3" fill="#0a14ff"/>
<circle cx="547.30" cy="381.10" r="1.3" fill="#0a14ff"/>
<circle cx="543.50" cy="385.40" r="1.3" fill="#0a14ff"/>
<circle cx="551.40" cy="385.40" r="1.3" fill="#0a14ff"/>
<circle cx="547.30" cy="388.50" r="1.3" fill="#0a14ff"/>
<circle cx="543.50" cy="397.30" r="1.3" fill="#0a14ff"/>
<circle cx="551.40" cy="396.70" r="1.3" fill="#0a14ff"/>
<circle cx="547.30" cy="391.00" r="1.3" fill="#0a14ff"/>
<line x1="540.10" y1="386.70" x2="554.50" y2="386.70" stroke="#0a14ff" stroke-width="0.8"/>
<line x1="547.30" y1="382.90" x2="547.30" y2="390.30" stroke="#0a14ff" stroke-width="0.8"/>
<line x1="543.80" y1="382.90" x2="550.80" y2="382.90" stroke="#0a14ff" stroke-width="0.8"/>
<line x1="543.80" y1="390.30" x2="550.80" y2="390.30" stroke="#0a14ff" stroke-width="0.8"/>
<text transform="translate(584.10,309.50) scale(1.1,1)" x="0" y="0" font-size="12.6" font-weight="bold" fill="#000">n</text>
<text x="638.10" y="309.70" font-size="8.5" textLength="14.50" lengthAdjust="spacingAndGlyphs">VAT</text>
<text x="637.50" y="324.80" font-size="7.0" fill="#2b2829" textLength="20.40" lengthAdjust="spacingAndGlyphs">0.026</text>
<line x1="634.90" y1="327.40" x2="660.70" y2="327.40" stroke="#3a3a3a" stroke-width="1.0"/>
<line x1="634.90" y1="325.90" x2="634.90" y2="328.90" stroke="#3a3a3a" stroke-width="1.0"/>
<line x1="660.70" y1="325.90" x2="660.70" y2="328.90" stroke="#3a3a3a" stroke-width="1.0"/>
<line x1="616.00" y1="324.40" x2="616.00" y2="404.10" stroke="#6d6e71" stroke-width="0.75"/>
<line x1="613.00" y1="403.70" x2="616.00" y2="403.70" stroke="#6d6e71" stroke-width="0.75"/>
<text x="609.80" y="407.10" font-size="9.2" text-anchor="end" textLength="5.60" lengthAdjust="spacingAndGlyphs">0</text>
<line x1="614.00" y1="390.55" x2="616.00" y2="390.55" stroke="#6d6e71" stroke-width="0.75"/>
<line x1="613.00" y1="377.40" x2="616.00" y2="377.40" stroke="#6d6e71" stroke-width="0.75"/>
<text x="609.80" y="380.80" font-size="9.2" text-anchor="end" textLength="11.20" lengthAdjust="spacingAndGlyphs">20</text>
<line x1="614.00" y1="364.25" x2="616.00" y2="364.25" stroke="#6d6e71" stroke-width="0.75"/>
<line x1="613.00" y1="351.10" x2="616.00" y2="351.10" stroke="#6d6e71" stroke-width="0.75"/>
<text x="609.80" y="354.50" font-size="9.2" text-anchor="end" textLength="11.20" lengthAdjust="spacingAndGlyphs">40</text>
<line x1="614.00" y1="337.95" x2="616.00" y2="337.95" stroke="#6d6e71" stroke-width="0.75"/>
<line x1="613.00" y1="324.80" x2="616.00" y2="324.80" stroke="#6d6e71" stroke-width="0.75"/>
<text x="609.80" y="328.20" font-size="9.2" text-anchor="end" textLength="11.20" lengthAdjust="spacingAndGlyphs">60</text>
<line x1="616.00" y1="403.70" x2="675.60" y2="403.70" stroke="#6d6e71" stroke-width="0.75"/>
<line x1="633.80" y1="403.70" x2="633.80" y2="406.70" stroke="#6d6e71" stroke-width="0.75"/>
<line x1="658.80" y1="403.70" x2="658.80" y2="406.70" stroke="#6d6e71" stroke-width="0.75"/>
<text x="628.70" y="417.40" font-size="8.6" textLength="10.30" lengthAdjust="spacingAndGlyphs">Iso</text>
<text x="646.60" y="417.40" font-size="8.6" textLength="24.10" lengthAdjust="spacingAndGlyphs">α-C3a</text>
<text x="592.58" y="363.30" font-size="8.4" text-anchor="middle" textLength="83.80" lengthAdjust="spacingAndGlyphs" transform="rotate(-90 592.58 363.30)">CD4 T cells (% gated)</text>
<circle cx="633.80" cy="334.50" r="1.3" fill="#000"/>
<circle cx="633.80" cy="344.90" r="1.3" fill="#000"/>
<circle cx="633.80" cy="358.00" r="1.3" fill="#000"/>
<circle cx="629.60" cy="362.80" r="1.3" fill="#000"/>
<circle cx="633.80" cy="362.00" r="1.3" fill="#000"/>
<circle cx="638.10" cy="366.60" r="1.3" fill="#000"/>
<circle cx="636.50" cy="368.00" r="1.3" fill="#000"/>
<circle cx="633.80" cy="374.70" r="1.3" fill="#000"/>
<line x1="626.60" y1="359.40" x2="641.00" y2="359.40" stroke="#231f20" stroke-width="0.8"/>
<line x1="633.80" y1="354.80" x2="633.80" y2="363.00" stroke="#231f20" stroke-width="0.8"/>
<line x1="630.30" y1="354.80" x2="637.30" y2="354.80" stroke="#231f20" stroke-width="0.8"/>
<line x1="630.30" y1="363.00" x2="637.30" y2="363.00" stroke="#231f20" stroke-width="0.8"/>
<circle cx="662.60" cy="364.30" r="1.3" fill="#0a14ff"/>
<circle cx="658.80" cy="366.20" r="1.3" fill="#0a14ff"/>
<circle cx="658.80" cy="369.00" r="1.3" fill="#0a14ff"/>
<circle cx="655.00" cy="374.10" r="1.3" fill="#0a14ff"/>
<circle cx="658.80" cy="374.10" r="1.3" fill="#0a14ff"/>
<circle cx="662.60" cy="374.10" r="1.3" fill="#0a14ff"/>
<circle cx="658.80" cy="376.00" r="1.3" fill="#0a14ff"/>
<circle cx="658.80" cy="386.90" r="1.3" fill="#0a14ff"/>
<line x1="651.60" y1="373.20" x2="666.00" y2="373.20" stroke="#0a14ff" stroke-width="0.8"/>
<line x1="658.80" y1="370.00" x2="658.80" y2="377.00" stroke="#0a14ff" stroke-width="0.8"/>
<line x1="655.30" y1="370.00" x2="662.30" y2="370.00" stroke="#0a14ff" stroke-width="0.8"/>
<line x1="655.30" y1="377.00" x2="662.30" y2="377.00" stroke="#0a14ff" stroke-width="0.8"/>
<text transform="translate(285.40,150.00) scale(1.1,1)" x="0" y="0" font-size="12.6" font-weight="bold" fill="#000">f</text>
<text x="368.60" y="146.00" font-size="8.6" textLength="55.60" lengthAdjust="spacingAndGlyphs">20-month-old</text>
<text x="364.40" y="155.60" font-size="8.6" textLength="10.80" lengthAdjust="spacingAndGlyphs">Iso</text>
<text x="414.90" y="156.10" font-size="8.6" textLength="24.10" lengthAdjust="spacingAndGlyphs">α-C3a</text>
<text x="455.20" y="156.00" font-size="8.4" textLength="20.40" lengthAdjust="spacingAndGlyphs">(kDa)</text>
<line x1="341.10" y1="160.30" x2="392.50" y2="160.30" stroke="#231f20" stroke-width="1.0"/>
<line x1="399.30" y1="160.30" x2="451.50" y2="160.30" stroke="#231f20" stroke-width="1.0"/>
<linearGradient id="actbg" x1="0" x2="1" y1="0" y2="0">
<stop offset="0" stop-color="#f0f0f0"/><stop offset="0.2" stop-color="#f8f8f8"/><stop offset="0.25" stop-color="#d8d8d8"/>
<stop offset="0.30" stop-color="#a0a0a0"/><stop offset="0.36" stop-color="#909090"/><stop offset="0.42" stop-color="#7a7a7a"/><stop offset="0.47" stop-color="#8a8a8a"/>
<stop offset="0.50" stop-color="#b8b8b8"/><stop offset="0.52" stop-color="#f4f4f4"/><stop offset="0.58" stop-color="#ffffff"/><stop offset="0.64" stop-color="#e8e8e8"/>
<stop offset="0.72" stop-color="#b0b0b0"/><stop offset="0.80" stop-color="#8e8e8e"/><stop offset="0.88" stop-color="#909090"/><stop offset="0.95" stop-color="#a8a8a8"/><stop offset="1" stop-color="#c0c0c0"/>
</linearGradient>
<linearGradient id="actbgv" x1="0" x2="0" y1="0" y2="1">
<stop offset="0" stop-color="#fff" stop-opacity="0.5"/><stop offset="0.5" stop-color="#fff" stop-opacity="0"/><stop offset="1" stop-color="#fff" stop-opacity="0.45"/>
</linearGradient>
<rect x="339.2" y="164.4" width="115.10000000000002" height="16.6" fill="#e0e0e0" stroke="#333" stroke-width="1"/>
<rect x="339.2" y="183.5" width="115.10000000000002" height="15.7" fill="#d6d6d6" stroke="#333" stroke-width="1"/>
<rect x="339.2" y="201.6" width="115.10000000000002" height="15.8" fill="url(#actbg)"/>
<rect x="339.2" y="201.6" width="115.10000000000002" height="15.8" fill="url(#actbgv)" stroke="#222" stroke-width="1"/>
<rect x="343.05" y="168.70" width="11.50" height="4.00" rx="1.40" fill="#555" opacity="0.45" filter="url(#blur2)"/>
<rect x="343.55" y="169.60" width="10.50" height="2.20" rx="0.77" fill="#555" opacity="1.0" filter="url(#blur0)"/>
<rect x="342.90" y="173.50" width="11.80" height="4.80" rx="1.68" fill="#111" opacity="0.45" filter="url(#blur2)"/>
<rect x="343.40" y="174.40" width="10.80" height="3.00" rx="1.05" fill="#111" opacity="1.0" filter="url(#blur0)"/>
<rect x="342.90" y="185.85" width="11.80" height="4.30" rx="1.50" fill="#333" opacity="0.45" filter="url(#blur2)"/>
<rect x="343.40" y="186.75" width="10.80" height="2.50" rx="0.88" fill="#333" opacity="1.0" filter="url(#blur0)"/>
<rect x="342.90" y="191.80" width="11.80" height="4.80" rx="1.68" fill="#1e1e1e" opacity="0.45" filter="url(#blur2)"/>
<rect x="343.40" y="192.70" width="10.80" height="3.00" rx="1.05" fill="#1e1e1e" opacity="1.0" filter="url(#blur0)"/>
<rect x="342.40" y="207.40" width="12.80" height="5.20" rx="2.60" fill="#7a7a7a" opacity="0.45" filter="url(#blur2)"/>
<rect x="342.90" y="208.30" width="11.80" height="3.40" rx="1.70" fill="#7a7a7a" opacity="1.0" filter="url(#blur0)"/>
<rect x="356.85" y="168.70" width="11.50" height="4.00" rx="1.40" fill="#666" opacity="0.45" filter="url(#blur2)"/>
<rect x="357.35" y="169.60" width="10.50" height="2.20" rx="0.77" fill="#666" opacity="1.0" filter="url(#blur0)"/>
<rect x="356.70" y="173.50" width="11.80" height="4.80" rx="1.68" fill="#222" opacity="0.45" filter="url(#blur2)"/>
<rect x="357.20" y="174.40" width="10.80" height="3.00" rx="1.05" fill="#222" opacity="1.0" filter="url(#blur0)"/>
<rect x="356.70" y="185.85" width="11.80" height="4.30" rx="1.50" fill="#444" opacity="0.45" filter="url(#blur2)"/>
<rect x="357.20" y="186.75" width="10.80" height="2.50" rx="0.88" fill="#444" opacity="1.0" filter="url(#blur0)"/>
<rect x="356.70" y="191.80" width="11.80" height="4.80" rx="1.68" fill="#262626" opacity="0.45" filter="url(#blur2)"/>
<rect x="357.20" y="192.70" width="10.80" height="3.00" rx="1.05" fill="#262626" opacity="1.0" filter="url(#blur0)"/>
<rect x="356.20" y="207.40" width="12.80" height="5.20" rx="2.60" fill="#8a8a8a" opacity="0.45" filter="url(#blur2)"/>
<rect x="356.70" y="208.30" width="11.80" height="3.40" rx="1.70" fill="#8a8a8a" opacity="1.0" filter="url(#blur0)"/>
<rect x="370.95" y="168.70" width="11.50" height="4.00" rx="1.40" fill="#6a6a6a" opacity="0.45" filter="url(#blur2)"/>
<rect x="371.45" y="169.60" width="10.50" height="2.20" rx="0.77" fill="#6a6a6a" opacity="1.0" filter="url(#blur0)"/>
<rect x="370.80" y="173.50" width="11.80" height="4.80" rx="1.68" fill="#1e1e1e" opacity="0.45" filter="url(#blur2)"/>
<rect x="371.30" y="174.40" width="10.80" height="3.00" rx="1.05" fill="#1e1e1e" opacity="1.0" filter="url(#blur0)"/>
<rect x="370.80" y="185.85" width="11.80" height="4.30" rx="1.50" fill="#4a4a4a" opacity="0.45" filter="url(#blur2)"/>
<rect x="371.30" y="186.75" width="10.80" height="2.50" rx="0.88" fill="#4a4a4a" opacity="1.0" filter="url(#blur0)"/>
<rect x="370.80" y="191.80" width="11.80" height="4.80" rx="1.68" fill="#2e2e2e" opacity="0.45" filter="url(#blur2)"/>
<rect x="371.30" y="192.70" width="10.80" height="3.00" rx="1.05" fill="#2e2e2e" opacity="1.0" filter="url(#blur0)"/>
<rect x="370.30" y="207.40" width="12.80" height="5.20" rx="2.60" fill="#3a3a3a" opacity="0.45" filter="url(#blur2)"/>
<rect x="370.80" y="208.30" width="11.80" height="3.40" rx="1.70" fill="#3a3a3a" opacity="1.0" filter="url(#blur0)"/>
<rect x="384.45" y="168.70" width="11.50" height="4.00" rx="1.40" fill="#6a6a6a" opacity="0.45" filter="url(#blur2)"/>
<rect x="384.95" y="169.60" width="10.50" height="2.20" rx="0.77" fill="#6a6a6a" opacity="1.0" filter="url(#blur0)"/>
<rect x="384.30" y="173.50" width="11.80" height="4.80" rx="1.68" fill="#333" opacity="0.45" filter="url(#blur2)"/>
<rect x="384.80" y="174.40" width="10.80" height="3.00" rx="1.05" fill="#333" opacity="1.0" filter="url(#blur0)"/>
<rect x="384.30" y="185.85" width="11.80" height="4.30" rx="1.50" fill="#777" opacity="0.45" filter="url(#blur2)"/>
<rect x="384.80" y="186.75" width="10.80" height="2.50" rx="0.88" fill="#777" opacity="1.0" filter="url(#blur0)"/>
<rect x="384.30" y="191.80" width="11.80" height="4.80" rx="1.68" fill="#555" opacity="0.45" filter="url(#blur2)"/>
<rect x="384.80" y="192.70" width="10.80" height="3.00" rx="1.05" fill="#555" opacity="1.0" filter="url(#blur0)"/>
<rect x="383.80" y="207.40" width="12.80" height="5.20" rx="2.60" fill="#2a2a2a" opacity="0.45" filter="url(#blur2)"/>
<rect x="384.30" y="208.30" width="11.80" height="3.40" rx="1.70" fill="#2a2a2a" opacity="1.0" filter="url(#blur0)"/>
<rect x="398.55" y="168.70" width="11.50" height="4.00" rx="1.40" fill="#b0b0b0" opacity="0.45" filter="url(#blur2)"/>
<rect x="399.05" y="169.60" width="10.50" height="2.20" rx="0.77" fill="#b0b0b0" opacity="1.0" filter="url(#blur0)"/>
<rect x="398.40" y="173.50" width="11.80" height="4.80" rx="1.68" fill="#5e5e5e" opacity="0.45" filter="url(#blur2)"/>
<rect x="398.90" y="174.40" width="10.80" height="3.00" rx="1.05" fill="#5e5e5e" opacity="1.0" filter="url(#blur0)"/>
<rect x="398.40" y="185.85" width="11.80" height="4.30" rx="1.50" fill="#3a3a3a" opacity="0.45" filter="url(#blur2)"/>
<rect x="398.90" y="186.75" width="10.80" height="2.50" rx="0.88" fill="#3a3a3a" opacity="1.0" filter="url(#blur0)"/>
<rect x="398.40" y="191.80" width="11.80" height="4.80" rx="1.68" fill="#262626" opacity="0.45" filter="url(#blur2)"/>
<rect x="398.90" y="192.70" width="10.80" height="3.00" rx="1.05" fill="#262626" opacity="1.0" filter="url(#blur0)"/>
<rect x="397.90" y="207.40" width="12.80" height="5.20" rx="2.60" fill="#2e2e2e" opacity="0.45" filter="url(#blur2)"/>
<rect x="398.40" y="208.30" width="11.80" height="3.40" rx="1.70" fill="#2e2e2e" opacity="1.0" filter="url(#blur0)"/>
<rect x="412.25" y="168.70" width="11.50" height="4.00" rx="1.40" fill="#b8b8b8" opacity="0.45" filter="url(#blur2)"/>
<rect x="412.75" y="169.60" width="10.50" height="2.20" rx="0.77" fill="#b8b8b8" opacity="1.0" filter="url(#blur0)"/>
<rect x="412.10" y="173.50" width="11.80" height="4.80" rx="1.68" fill="#8e8e8e" opacity="0.45" filter="url(#blur2)"/>
<rect x="412.60" y="174.40" width="10.80" height="3.00" rx="1.05" fill="#8e8e8e" opacity="1.0" filter="url(#blur0)"/>
<rect x="412.10" y="185.85" width="11.80" height="4.30" rx="1.50" fill="#2a2a2a" opacity="0.45" filter="url(#blur2)"/>
<rect x="412.60" y="186.75" width="10.80" height="2.50" rx="0.88" fill="#2a2a2a" opacity="1.0" filter="url(#blur0)"/>
<rect x="412.10" y="191.80" width="11.80" height="4.80" rx="1.68" fill="#2a2a2a" opacity="0.45" filter="url(#blur2)"/>
<rect x="412.60" y="192.70" width="10.80" height="3.00" rx="1.05" fill="#2a2a2a" opacity="1.0" filter="url(#blur0)"/>
<rect x="411.60" y="207.40" width="12.80" height="5.20" rx="2.60" fill="#4a4a4a" opacity="0.45" filter="url(#blur2)"/>
<rect x="412.10" y="208.30" width="11.80" height="3.40" rx="1.70" fill="#4a4a4a" opacity="1.0" filter="url(#blur0)"/>
<rect x="425.85" y="168.70" width="11.50" height="4.00" rx="1.40" fill="#b0b0b0" opacity="0.45" filter="url(#blur2)"/>
<rect x="426.35" y="169.60" width="10.50" height="2.20" rx="0.77" fill="#b0b0b0" opacity="1.0" filter="url(#blur0)"/>
<rect x="425.70" y="173.50" width="11.80" height="4.80" rx="1.68" fill="#949494" opacity="0.45" filter="url(#blur2)"/>
<rect x="426.20" y="174.40" width="10.80" height="3.00" rx="1.05" fill="#949494" opacity="1.0" filter="url(#blur0)"/>
<rect x="425.70" y="185.85" width="11.80" height="4.30" rx="1.50" fill="#2a2a2a" opacity="0.45" filter="url(#blur2)"/>
<rect x="426.20" y="186.75" width="10.80" height="2.50" rx="0.88" fill="#2a2a2a" opacity="1.0" filter="url(#blur0)"/>
<rect x="425.70" y="191.80" width="11.80" height="4.80" rx="1.68" fill="#222" opacity="0.45" filter="url(#blur2)"/>
<rect x="426.20" y="192.70" width="10.80" height="3.00" rx="1.05" fill="#222" opacity="1.0" filter="url(#blur0)"/>
<rect x="425.20" y="207.40" width="12.80" height="5.20" rx="2.60" fill="#2a2a2a" opacity="0.45" filter="url(#blur2)"/>
<rect x="425.70" y="208.30" width="11.80" height="3.40" rx="1.70" fill="#2a2a2a" opacity="1.0" filter="url(#blur0)"/>
<rect x="439.45" y="168.70" width="11.50" height="4.00" rx="1.40" fill="#bcbcbc" opacity="0.45" filter="url(#blur2)"/>
<rect x="439.95" y="169.60" width="10.50" height="2.20" rx="0.77" fill="#bcbcbc" opacity="1.0" filter="url(#blur0)"/>
<rect x="439.30" y="173.50" width="11.80" height="4.80" rx="1.68" fill="#8c8c8c" opacity="0.45" filter="url(#blur2)"/>
<rect x="439.80" y="174.40" width="10.80" height="3.00" rx="1.05" fill="#8c8c8c" opacity="1.0" filter="url(#blur0)"/>
<rect x="439.30" y="185.85" width="11.80" height="4.30" rx="1.50" fill="#5a5a5a" opacity="0.45" filter="url(#blur2)"/>
<rect x="439.80" y="186.75" width="10.80" height="2.50" rx="0.88" fill="#5a5a5a" opacity="1.0" filter="url(#blur0)"/>
<rect x="439.30" y="191.80" width="11.80" height="4.80" rx="1.68" fill="#262626" opacity="0.45" filter="url(#blur2)"/>
<rect x="439.80" y="192.70" width="10.80" height="3.00" rx="1.05" fill="#262626" opacity="1.0" filter="url(#blur0)"/>
<rect x="438.80" y="207.40" width="12.80" height="5.20" rx="2.60" fill="#333" opacity="0.45" filter="url(#blur2)"/>
<rect x="439.30" y="208.30" width="11.80" height="3.40" rx="1.70" fill="#333" opacity="1.0" filter="url(#blur0)"/>
<line x1="396.80" y1="164.40" x2="396.80" y2="217.40" stroke="#444" stroke-width="1.3" stroke-dasharray="1.5 1.1"/>
<line x1="455.00" y1="177.20" x2="458.20" y2="177.20" stroke="#231f20" stroke-width="0.9"/>
<text x="460.60" y="180.00" font-size="7.8" textLength="9.20" lengthAdjust="spacingAndGlyphs">40</text>
<line x1="455.00" y1="196.50" x2="458.20" y2="196.50" stroke="#231f20" stroke-width="0.9"/>
<text x="460.60" y="199.30" font-size="7.8" textLength="9.20" lengthAdjust="spacingAndGlyphs">40</text>
<line x1="455.00" y1="213.00" x2="458.20" y2="213.00" stroke="#231f20" stroke-width="0.9"/>
<text x="460.60" y="215.80" font-size="7.8" textLength="9.20" lengthAdjust="spacingAndGlyphs">40</text>
<text x="335.90" y="171.50" font-size="8.6" text-anchor="end" textLength="24.00" lengthAdjust="spacingAndGlyphs">p-ERK</text>
<text x="335.90" y="182.40" font-size="8.6" text-anchor="end" textLength="50.40" lengthAdjust="spacingAndGlyphs">(Y202/Y204)</text>
<text x="335.90" y="194.10" font-size="8.6" text-anchor="end" textLength="15.30" lengthAdjust="spacingAndGlyphs">ERK</text>
<text x="335.90" y="212.40" font-size="8.6" text-anchor="end" textLength="27.40" lengthAdjust="spacingAndGlyphs">β-actin</text>
<line x1="348.60" y1="225.50" x2="348.60" y2="253.60" stroke="#6d6e71" stroke-width="0.75"/>
<line x1="348.60" y1="253.60" x2="447.40" y2="253.60" stroke="#6d6e71" stroke-width="0.75"/>
<line x1="345.40" y1="233.90" x2="348.60" y2="233.90" stroke="#6d6e71" stroke-width="0.75"/>
<line x1="345.40" y1="245.30" x2="348.60" y2="245.30" stroke="#6d6e71" stroke-width="0.75"/>
<line x1="348.60" y1="253.60" x2="348.60" y2="256.80" stroke="#6d6e71" stroke-width="0.75"/>
<text x="348.60" y="265.50" font-size="7.4" text-anchor="middle" fill="#2b2829">0</text>
<line x1="381.50" y1="253.60" x2="381.50" y2="256.80" stroke="#6d6e71" stroke-width="0.75"/>
<text x="381.50" y="265.50" font-size="7.4" text-anchor="middle" fill="#2b2829">0.5</text>
<line x1="414.40" y1="253.60" x2="414.40" y2="256.80" stroke="#6d6e71" stroke-width="0.75"/>
<text x="414.40" y="265.50" font-size="7.4" text-anchor="middle" fill="#2b2829">1.0</text>
<line x1="447.30" y1="253.60" x2="447.30" y2="256.80" stroke="#6d6e71" stroke-width="0.75"/>
<text x="447.30" y="265.50" font-size="7.4" text-anchor="middle" fill="#2b2829">1.5</text>
<text x="338.20" y="235.80" font-size="8.4" text-anchor="end" textLength="10.50" lengthAdjust="spacingAndGlyphs">Iso</text>
<text x="338.20" y="247.30" font-size="8.4" text-anchor="end" textLength="23.60" lengthAdjust="spacingAndGlyphs">α-C3a</text>
<text x="349.60" y="281.00" font-size="8.4" textLength="96.30" lengthAdjust="spacingAndGlyphs">p-ERK/ERK/β-actin (a.u.)</text>
<line x1="402.40" y1="233.90" x2="426.60" y2="233.90" stroke="#9a9a9a" stroke-width="0.8"/>
<line x1="402.40" y1="231.90" x2="402.40" y2="235.90" stroke="#9a9a9a" stroke-width="0.8"/>
<line x1="414.20" y1="231.40" x2="414.20" y2="236.40" stroke="#9a9a9a" stroke-width="0.8"/>
<circle cx="382.40" cy="233.90" r="1.2" fill="#000"/>
<circle cx="412.30" cy="233.90" r="1.2" fill="#000"/>
<circle cx="426.60" cy="233.90" r="1.2" fill="#000"/>
<circle cx="436.00" cy="233.90" r="1.2" fill="#000"/>
<circle cx="350.80" cy="243.00" r="1.2" fill="#0a14ff"/>
<circle cx="350.80" cy="247.50" r="1.2" fill="#0a14ff"/>
<circle cx="362.00" cy="243.00" r="1.2" fill="#0a14ff"/>
<circle cx="362.50" cy="247.50" r="1.2" fill="#0a14ff"/>
<line x1="352.00" y1="245.30" x2="360.50" y2="245.30" stroke="#0a14ff" stroke-width="0.7"/>
<line x1="356.20" y1="242.50" x2="356.20" y2="248.00" stroke="#0a14ff" stroke-width="0.7"/>
<line x1="442.30" y1="232.00" x2="442.30" y2="247.40" stroke="#231f20" stroke-width="1.0"/>
<line x1="440.80" y1="232.00" x2="443.80" y2="232.00" stroke="#231f20" stroke-width="1.0"/>
<line x1="440.80" y1="247.40" x2="443.80" y2="247.40" stroke="#231f20" stroke-width="1.0"/>
<text x="448.00" y="228.80" font-size="7.4" fill="#2b2829" textLength="21.00" lengthAdjust="spacingAndGlyphs" transform="rotate(90 448.00 228.80)">0.003</text>
<text transform="translate(1.30,440.70) scale(1.1,1)" x="0" y="0" font-size="12.6" font-weight="bold" fill="#000">o</text>
<text x="110.90" y="441.60" font-size="8.4" textLength="40.60" lengthAdjust="spacingAndGlyphs">WT 24 mo</text>
<text x="180.60" y="441.60" font-size="8.4" textLength="65.50" lengthAdjust="spacingAndGlyphs">FGF21-Tg 24 mo</text>
<text x="255.00" y="441.60" font-size="8.4" textLength="20.50" lengthAdjust="spacingAndGlyphs">(kDa)</text>
<line x1="93.30" y1="446.60" x2="165.20" y2="446.60" stroke="#231f20" stroke-width="1.0"/>
<line x1="173.30" y1="446.60" x2="246.10" y2="446.60" stroke="#231f20" stroke-width="1.0"/>
<rect x="87.4" y="451.0" width="165.0" height="88.5" fill="#ececec" stroke="#333" stroke-width="1"/>
<rect x="93.70" y="464.75" width="20.00" height="3.30" rx="1.32" fill="#c4c4c4" opacity="0.45" filter="url(#blur2)"/>
<rect x="94.20" y="465.65" width="19.00" height="1.50" rx="0.60" fill="#c4c4c4" opacity="1.0" filter="url(#blur0)"/>
<rect x="119.60" y="464.75" width="20.00" height="3.30" rx="1.32" fill="#c8c8c8" opacity="0.45" filter="url(#blur2)"/>
<rect x="120.10" y="465.65" width="19.00" height="1.50" rx="0.60" fill="#c8c8c8" opacity="1.0" filter="url(#blur0)"/>
<rect x="145.60" y="464.75" width="20.00" height="3.30" rx="1.32" fill="#c8c8c8" opacity="0.45" filter="url(#blur2)"/>
<rect x="146.10" y="465.65" width="19.00" height="1.50" rx="0.60" fill="#c8c8c8" opacity="1.0" filter="url(#blur0)"/>
<rect x="171.50" y="464.75" width="20.00" height="3.30" rx="1.32" fill="#cfcfcf" opacity="0.45" filter="url(#blur2)"/>
<rect x="172.00" y="465.65" width="19.00" height="1.50" rx="0.60" fill="#cfcfcf" opacity="1.0" filter="url(#blur0)"/>
<rect x="197.20" y="464.75" width="20.00" height="3.30" rx="1.32" fill="#d0d0d0" opacity="0.45" filter="url(#blur2)"/>
<rect x="197.70" y="465.65" width="19.00" height="1.50" rx="0.60" fill="#d0d0d0" opacity="1.0" filter="url(#blur0)"/>
<rect x="223.40" y="464.75" width="20.00" height="3.30" rx="1.32" fill="#cacaca" opacity="0.45" filter="url(#blur2)"/>
<rect x="223.90" y="465.65" width="19.00" height="1.50" rx="0.60" fill="#cacaca" opacity="1.0" filter="url(#blur0)"/>
<rect x="92.95" y="474.10" width="21.50" height="5.80" rx="2.32" fill="#050505" opacity="0.45" filter="url(#blur2)"/>
<rect x="93.45" y="475.00" width="20.50" height="4.00" rx="1.60" fill="#050505" opacity="1.0" filter="url(#blur1)"/>
<rect x="118.85" y="474.10" width="21.50" height="5.80" rx="2.32" fill="#050505" opacity="0.45" filter="url(#blur2)"/>
<rect x="119.35" y="475.00" width="20.50" height="4.00" rx="1.60" fill="#050505" opacity="1.0" filter="url(#blur1)"/>
<rect x="144.85" y="474.10" width="21.50" height="5.80" rx="2.32" fill="#0a0a0a" opacity="0.45" filter="url(#blur2)"/>
<rect x="145.35" y="475.00" width="20.50" height="4.00" rx="1.60" fill="#0a0a0a" opacity="1.0" filter="url(#blur1)"/>
<rect x="170.75" y="475.20" width="21.50" height="4.00" rx="1.60" fill="#3a3a3a" opacity="0.45" filter="url(#blur2)"/>
<rect x="171.25" y="476.10" width="20.50" height="2.20" rx="0.88" fill="#3a3a3a" opacity="1.0" filter="url(#blur0)"/>
<rect x="196.45" y="474.55" width="21.50" height="4.10" rx="1.64" fill="#404040" opacity="0.45" filter="url(#blur2)"/>
<rect x="196.95" y="475.45" width="20.50" height="2.30" rx="0.92" fill="#404040" opacity="1.0" filter="url(#blur0)"/>
<rect x="222.65" y="473.90" width="21.50" height="4.20" rx="1.68" fill="#333" opacity="0.45" filter="url(#blur2)"/>
<rect x="223.15" y="474.80" width="20.50" height="2.40" rx="0.96" fill="#333" opacity="1.0" filter="url(#blur0)"/>
<rect x="92.95" y="494.60" width="21.50" height="4.80" rx="1.92" fill="#959595" opacity="0.45" filter="url(#blur2)"/>
<rect x="93.45" y="495.50" width="20.50" height="3.00" rx="1.20" fill="#959595" opacity="1.0" filter="url(#blur0)"/>
<rect x="118.85" y="494.60" width="21.50" height="4.80" rx="1.92" fill="#9a9a9a" opacity="0.45" filter="url(#blur2)"/>
<rect x="119.35" y="495.50" width="20.50" height="3.00" rx="1.20" fill="#9a9a9a" opacity="1.0" filter="url(#blur0)"/>
<rect x="144.85" y="494.60" width="21.50" height="4.80" rx="1.92" fill="#959595" opacity="0.45" filter="url(#blur2)"/>
<rect x="145.35" y="495.50" width="20.50" height="3.00" rx="1.20" fill="#959595" opacity="1.0" filter="url(#blur0)"/>
<rect x="170.75" y="495.00" width="21.50" height="4.00" rx="1.60" fill="#c2c2c2" opacity="0.45" filter="url(#blur2)"/>
<rect x="171.25" y="495.90" width="20.50" height="2.20" rx="0.88" fill="#c2c2c2" opacity="1.0" filter="url(#blur0)"/>
<rect x="196.45" y="494.80" width="21.50" height="4.00" rx="1.60" fill="#c0c0c0" opacity="0.45" filter="url(#blur2)"/>
<rect x="196.95" y="495.70" width="20.50" height="2.20" rx="0.88" fill="#c0c0c0" opacity="1.0" filter="url(#blur0)"/>
<rect x="222.65" y="494.40" width="21.50" height="4.00" rx="1.60" fill="#c2c2c2" opacity="0.45" filter="url(#blur2)"/>
<rect x="223.15" y="495.30" width="20.50" height="2.20" rx="0.88" fill="#c2c2c2" opacity="1.0" filter="url(#blur0)"/>
<rect x="93.20" y="527.80" width="21.00" height="5.40" rx="2.16" fill="#d4d4d4" opacity="0.45" filter="url(#blur2)"/>
<rect x="93.70" y="528.70" width="20.00" height="3.60" rx="1.44" fill="#d4d4d4" opacity="1.0" filter="url(#blur1)"/>
<rect x="119.10" y="527.80" width="21.00" height="5.40" rx="2.16" fill="#d6d6d6" opacity="0.45" filter="url(#blur2)"/>
<rect x="119.60" y="528.70" width="20.00" height="3.60" rx="1.44" fill="#d6d6d6" opacity="1.0" filter="url(#blur1)"/>
<rect x="145.10" y="527.80" width="21.00" height="5.40" rx="2.16" fill="#d6d6d6" opacity="0.45" filter="url(#blur2)"/>
<rect x="145.60" y="528.70" width="20.00" height="3.60" rx="1.44" fill="#d6d6d6" opacity="1.0" filter="url(#blur1)"/>
<rect x="171.00" y="527.80" width="21.00" height="5.40" rx="2.16" fill="#e0e0e0" opacity="0.45" filter="url(#blur2)"/>
<rect x="171.50" y="528.70" width="20.00" height="3.60" rx="1.44" fill="#e0e0e0" opacity="1.0" filter="url(#blur1)"/>
<rect x="196.70" y="527.80" width="21.00" height="5.40" rx="2.16" fill="#dfdfdf" opacity="0.45" filter="url(#blur2)"/>
<rect x="197.20" y="528.70" width="20.00" height="3.60" rx="1.44" fill="#dfdfdf" opacity="1.0" filter="url(#blur1)"/>
<rect x="222.90" y="527.80" width="21.00" height="5.40" rx="2.16" fill="#dddddd" opacity="0.45" filter="url(#blur2)"/>
<rect x="223.40" y="528.70" width="20.00" height="3.60" rx="1.44" fill="#dddddd" opacity="1.0" filter="url(#blur1)"/>
<rect x="87.4" y="543.7" width="165.0" height="16.699999999999932" fill="#e0e0e0" stroke="#333" stroke-width="1"/>
<rect x="90.80" y="550.25" width="22.00" height="6.10" rx="1.83" fill="#0c0c0c" opacity="0.45" filter="url(#blur2)"/>
<rect x="91.30" y="551.15" width="21.00" height="4.30" rx="1.29" fill="#0c0c0c" opacity="1.0" filter="url(#blur0)"/>
<rect x="117.40" y="550.25" width="22.00" height="6.10" rx="1.83" fill="#111" opacity="0.45" filter="url(#blur2)"/>
<rect x="117.90" y="551.15" width="21.00" height="4.30" rx="1.29" fill="#111" opacity="1.0" filter="url(#blur0)"/>
<rect x="144.50" y="550.25" width="22.00" height="6.10" rx="1.83" fill="#141414" opacity="0.45" filter="url(#blur2)"/>
<rect x="145.00" y="551.15" width="21.00" height="4.30" rx="1.29" fill="#141414" opacity="1.0" filter="url(#blur0)"/>
<rect x="171.40" y="550.25" width="22.00" height="6.10" rx="1.83" fill="#161616" opacity="0.45" filter="url(#blur2)"/>
<rect x="171.90" y="551.15" width="21.00" height="4.30" rx="1.29" fill="#161616" opacity="1.0" filter="url(#blur0)"/>
<rect x="198.70" y="550.25" width="22.00" height="6.10" rx="1.83" fill="#111" opacity="0.45" filter="url(#blur2)"/>
<rect x="199.20" y="551.15" width="21.00" height="4.30" rx="1.29" fill="#111" opacity="1.0" filter="url(#blur0)"/>
<rect x="226.00" y="550.25" width="22.00" height="6.10" rx="1.83" fill="#151515" opacity="0.45" filter="url(#blur2)"/>
<rect x="226.50" y="551.15" width="21.00" height="4.30" rx="1.29" fill="#151515" opacity="1.0" filter="url(#blur0)"/>
<line x1="168.10" y1="451.00" x2="168.10" y2="560.40" stroke="#333" stroke-width="1.2" stroke-dasharray="2.0 1.2"/>
<text x="72.00" y="468.60" font-size="8.4" text-anchor="end" textLength="10.00" lengthAdjust="spacingAndGlyphs">C3</text>
<text x="72.00" y="479.40" font-size="8.4" text-anchor="end" textLength="42.20" lengthAdjust="spacingAndGlyphs">C3 α-chain</text>
<text x="72.00" y="499.40" font-size="8.4" text-anchor="end" textLength="49.50" lengthAdjust="spacingAndGlyphs">iC3b α-chain</text>
<text x="72.00" y="528.80" font-size="8.4" text-anchor="end" textLength="49.50" lengthAdjust="spacingAndGlyphs">C3c α′-chain</text>
<text x="72.00" y="538.90" font-size="8.4" text-anchor="end" textLength="42.20" lengthAdjust="spacingAndGlyphs">fragment 2</text>
<text x="72.00" y="555.60" font-size="8.4" text-anchor="end" textLength="26.20" lengthAdjust="spacingAndGlyphs">HSP90</text>
<line x1="76.0" y1="466.3" x2="83.4" y2="466.3" stroke="#000" stroke-width="1.25"/>
<path d="M86.7,466.3 L82.2,464.0 L83.0,466.3 L82.2,468.6 Z" fill="#000"/>
<line x1="76.0" y1="476.9" x2="83.4" y2="476.9" stroke="#000" stroke-width="1.25"/>
<path d="M86.7,476.9 L82.2,474.59999999999997 L83.0,476.9 L82.2,479.2 Z" fill="#000"/>
<line x1="76.0" y1="496.8" x2="83.4" y2="496.8" stroke="#000" stroke-width="1.25"/>
<path d="M86.7,496.8 L82.2,494.5 L83.0,496.8 L82.2,499.1 Z" fill="#000"/>
<line x1="76.0" y1="531.7" x2="83.4" y2="531.7" stroke="#000" stroke-width="1.25"/>
<path d="M86.7,531.7 L82.2,529.4000000000001 L83.0,531.7 L82.2,534.0 Z" fill="#000"/>
<line x1="76.0" y1="553.3" x2="83.4" y2="553.3" stroke="#000" stroke-width="1.25"/>
<path d="M86.7,553.3 L82.2,551.0 L83.0,553.3 L82.2,555.5999999999999 Z" fill="#000"/>
<line x1="252.40" y1="466.70" x2="258.40" y2="466.70" stroke="#231f20" stroke-width="0.9"/>
<text x="261.20" y="469.72" font-size="8.4" textLength="13.90" lengthAdjust="spacingAndGlyphs">160</text>
<line x1="252.40" y1="480.40" x2="258.40" y2="480.40" stroke="#231f20" stroke-width="0.9"/>
<text x="261.20" y="483.42" font-size="8.4" textLength="13.90" lengthAdjust="spacingAndGlyphs">110</text>
<line x1="252.40" y1="498.40" x2="258.40" y2="498.40" stroke="#231f20" stroke-width="0.9"/>
<text x="261.20" y="501.42" font-size="8.4" textLength="9.40" lengthAdjust="spacingAndGlyphs">60</text>
<line x1="252.40" y1="526.20" x2="258.40" y2="526.20" stroke="#231f20" stroke-width="0.9"/>
<text x="261.20" y="529.22" font-size="8.4" textLength="9.40" lengthAdjust="spacingAndGlyphs">40</text>
<line x1="252.40" y1="555.20" x2="258.40" y2="555.20" stroke="#231f20" stroke-width="0.9"/>
<text x="261.20" y="558.22" font-size="8.4" textLength="9.40" lengthAdjust="spacingAndGlyphs">80</text>
<rect x="90.5" y="573.6" width="7.2" height="6.6" fill="none" stroke="#414042" stroke-width="0.7"/>
<text x="102.60" y="579.80" font-size="8.4" textLength="39.90" lengthAdjust="spacingAndGlyphs">WT 24 mo</text>
<rect x="158.7" y="573.6" width="7.8" height="6.8" fill="none" stroke="#5fc1d6" stroke-width="0.7"/>
<text x="170.50" y="579.80" font-size="8.4" textLength="65.80" lengthAdjust="spacingAndGlyphs">FGF21-Tg 24 mo</text>
<line x1="85.40" y1="595.90" x2="85.40" y2="641.90" stroke="#6d6e71" stroke-width="0.75"/>
<line x1="82.40" y1="641.50" x2="85.40" y2="641.50" stroke="#6d6e71" stroke-width="0.75"/>
<text x="77.60" y="644.09" font-size="7.0" text-anchor="end">0</text>
<line x1="83.40" y1="633.97" x2="85.40" y2="633.97" stroke="#6d6e71" stroke-width="0.75"/>
<line x1="82.40" y1="626.43" x2="85.40" y2="626.43" stroke="#6d6e71" stroke-width="0.75"/>
<text x="77.60" y="629.02" font-size="7.0" text-anchor="end">0.5</text>
<line x1="83.40" y1="618.90" x2="85.40" y2="618.90" stroke="#6d6e71" stroke-width="0.75"/>
<line x1="82.40" y1="611.37" x2="85.40" y2="611.37" stroke="#6d6e71" stroke-width="0.75"/>
<text x="77.60" y="613.96" font-size="7.0" text-anchor="end">1.0</text>
<line x1="83.40" y1="603.83" x2="85.40" y2="603.83" stroke="#6d6e71" stroke-width="0.75"/>
<line x1="82.40" y1="596.30" x2="85.40" y2="596.30" stroke="#6d6e71" stroke-width="0.75"/>
<text x="77.60" y="598.89" font-size="7.0" text-anchor="end">1.5</text>
<line x1="85.50" y1="641.50" x2="243.00" y2="641.50" stroke="#6d6e71" stroke-width="0.75"/>
<text x="52.48" y="617.20" font-size="8.4" text-anchor="middle" textLength="72.10" lengthAdjust="spacingAndGlyphs" transform="rotate(-90 52.48 617.20)">HSP90 normalized</text>
<text x="63.88" y="616.30" font-size="8.4" text-anchor="middle" textLength="64.50" lengthAdjust="spacingAndGlyphs" transform="rotate(-90 63.88 616.30)">expression (a.u.)</text>
<circle cx="100.30" cy="607.50" r="1.3" fill="#000"/>
<circle cx="100.30" cy="611.00" r="1.3" fill="#000"/>
<circle cx="100.30" cy="616.80" r="1.3" fill="#000"/>
<line x1="94.80" y1="611.50" x2="105.80" y2="611.50" stroke="#000" stroke-width="0.7"/>
<line x1="100.30" y1="608.80" x2="100.30" y2="614.50" stroke="#000" stroke-width="0.7"/>
<line x1="97.50" y1="608.80" x2="103.10" y2="608.80" stroke="#000" stroke-width="0.7"/>
<line x1="97.50" y1="614.50" x2="103.10" y2="614.50" stroke="#000" stroke-width="0.7"/>
<circle cx="108.70" cy="627.00" r="1.3" fill="#1f86a6"/>
<circle cx="113.00" cy="619.70" r="1.3" fill="#1f86a6"/>
<circle cx="117.20" cy="625.50" r="1.3" fill="#1f86a6"/>
<line x1="107.50" y1="624.00" x2="118.50" y2="624.00" stroke="#1f86a6" stroke-width="0.7"/>
<line x1="113.00" y1="621.50" x2="113.00" y2="626.50" stroke="#1f86a6" stroke-width="0.7"/>
<line x1="110.20" y1="621.50" x2="115.80" y2="621.50" stroke="#1f86a6" stroke-width="0.7"/>
<line x1="110.20" y1="626.50" x2="115.80" y2="626.50" stroke="#1f86a6" stroke-width="0.7"/>
<circle cx="133.50" cy="612.30" r="1.3" fill="#000"/>
<circle cx="137.70" cy="609.50" r="1.3" fill="#000"/>
<circle cx="141.80" cy="612.30" r="1.3" fill="#000"/>
<line x1="132.20" y1="611.40" x2="143.20" y2="611.40" stroke="#000" stroke-width="0.7"/>
<line x1="137.70" y1="610.50" x2="137.70" y2="612.30" stroke="#000" stroke-width="0.7"/>
<line x1="134.90" y1="610.50" x2="140.50" y2="610.50" stroke="#000" stroke-width="0.7"/>
<line x1="134.90" y1="612.30" x2="140.50" y2="612.30" stroke="#000" stroke-width="0.7"/>
<circle cx="146.50" cy="628.50" r="1.3" fill="#1f86a6"/>
<circle cx="150.40" cy="626.50" r="1.3" fill="#1f86a6"/>
<circle cx="154.50" cy="628.50" r="1.3" fill="#1f86a6"/>
<line x1="144.90" y1="628.00" x2="155.90" y2="628.00" stroke="#1f86a6" stroke-width="0.7"/>
<line x1="150.40" y1="627.30" x2="150.40" y2="628.60" stroke="#1f86a6" stroke-width="0.7"/>
<line x1="147.60" y1="627.30" x2="153.20" y2="627.30" stroke="#1f86a6" stroke-width="0.7"/>
<line x1="147.60" y1="628.60" x2="153.20" y2="628.60" stroke="#1f86a6" stroke-width="0.7"/>
<circle cx="171.00" cy="610.00" r="1.3" fill="#000"/>
<circle cx="174.70" cy="614.50" r="1.3" fill="#000"/>
<circle cx="179.00" cy="610.50" r="1.3" fill="#000"/>
<line x1="169.20" y1="611.50" x2="180.20" y2="611.50" stroke="#000" stroke-width="0.7"/>
<line x1="174.70" y1="610.00" x2="174.70" y2="613.00" stroke="#000" stroke-width="0.7"/>
<line x1="171.90" y1="610.00" x2="177.50" y2="610.00" stroke="#000" stroke-width="0.7"/>
<line x1="171.90" y1="613.00" x2="177.50" y2="613.00" stroke="#000" stroke-width="0.7"/>
<circle cx="184.00" cy="629.50" r="1.3" fill="#1f86a6"/>
<circle cx="188.00" cy="627.50" r="1.3" fill="#1f86a6"/>
<circle cx="192.00" cy="629.00" r="1.3" fill="#1f86a6"/>
<line x1="182.50" y1="629.00" x2="193.50" y2="629.00" stroke="#1f86a6" stroke-width="0.7"/>
<line x1="188.00" y1="628.30" x2="188.00" y2="629.60" stroke="#1f86a6" stroke-width="0.7"/>
<line x1="185.20" y1="628.30" x2="190.80" y2="628.30" stroke="#1f86a6" stroke-width="0.7"/>
<line x1="185.20" y1="629.60" x2="190.80" y2="629.60" stroke="#1f86a6" stroke-width="0.7"/>
<circle cx="209.00" cy="614.00" r="1.3" fill="#000"/>
<circle cx="212.60" cy="609.50" r="1.3" fill="#000"/>
<circle cx="216.50" cy="612.00" r="1.3" fill="#000"/>
<line x1="207.10" y1="612.00" x2="218.10" y2="612.00" stroke="#000" stroke-width="0.7"/>
<line x1="212.60" y1="610.50" x2="212.60" y2="613.50" stroke="#000" stroke-width="0.7"/>
<line x1="209.80" y1="610.50" x2="215.40" y2="610.50" stroke="#000" stroke-width="0.7"/>
<line x1="209.80" y1="613.50" x2="215.40" y2="613.50" stroke="#000" stroke-width="0.7"/>
<circle cx="222.00" cy="629.00" r="1.3" fill="#1f86a6"/>
<circle cx="225.50" cy="626.00" r="1.3" fill="#1f86a6"/>
<circle cx="229.50" cy="628.00" r="1.3" fill="#1f86a6"/>
<line x1="220.00" y1="628.00" x2="231.00" y2="628.00" stroke="#1f86a6" stroke-width="0.7"/>
<line x1="225.50" y1="627.00" x2="225.50" y2="628.80" stroke="#1f86a6" stroke-width="0.7"/>
<line x1="222.70" y1="627.00" x2="228.30" y2="627.00" stroke="#1f86a6" stroke-width="0.7"/>
<line x1="222.70" y1="628.80" x2="228.30" y2="628.80" stroke="#1f86a6" stroke-width="0.7"/>
<line x1="98.80" y1="601.00" x2="115.00" y2="601.00" stroke="#414042" stroke-width="0.9"/>
<line x1="98.80" y1="599.70" x2="98.80" y2="602.30" stroke="#414042" stroke-width="0.9"/>
<line x1="115.00" y1="599.70" x2="115.00" y2="602.30" stroke="#414042" stroke-width="0.9"/>
<text x="96.50" y="594.40" font-size="6.8" fill="#2b2829" textLength="20.40" lengthAdjust="spacingAndGlyphs">0.034</text>
<line x1="136.80" y1="603.50" x2="152.90" y2="603.50" stroke="#414042" stroke-width="0.9"/>
<line x1="136.80" y1="602.20" x2="136.80" y2="604.80" stroke="#414042" stroke-width="0.9"/>
<line x1="152.90" y1="602.20" x2="152.90" y2="604.80" stroke="#414042" stroke-width="0.9"/>
<text x="131.10" y="595.00" font-size="6.8" fill="#2b2829" textLength="26.20" lengthAdjust="spacingAndGlyphs">0.0004</text>
<line x1="173.70" y1="600.50" x2="189.80" y2="600.50" stroke="#414042" stroke-width="0.9"/>
<line x1="173.70" y1="599.20" x2="173.70" y2="601.80" stroke="#414042" stroke-width="0.9"/>
<line x1="189.80" y1="599.20" x2="189.80" y2="601.80" stroke="#414042" stroke-width="0.9"/>
<text x="168.40" y="593.50" font-size="6.8" fill="#2b2829" textLength="26.20" lengthAdjust="spacingAndGlyphs">0.0007</text>
<line x1="211.10" y1="603.00" x2="227.40" y2="603.00" stroke="#414042" stroke-width="0.9"/>
<line x1="211.10" y1="601.70" x2="211.10" y2="604.30" stroke="#414042" stroke-width="0.9"/>
<line x1="227.40" y1="601.70" x2="227.40" y2="604.30" stroke="#414042" stroke-width="0.9"/>
<text x="206.00" y="595.40" font-size="6.8" fill="#2b2829" textLength="26.00" lengthAdjust="spacingAndGlyphs">0.0008</text>
<text x="108.50" y="653.20" font-size="8.4" text-anchor="middle" textLength="11.80" lengthAdjust="spacingAndGlyphs">C3</text>
<text x="146.80" y="653.20" font-size="8.4" text-anchor="middle" textLength="11.80" lengthAdjust="spacingAndGlyphs">C3</text>
<text x="147.00" y="661.80" font-size="8.4" text-anchor="middle" textLength="28.80" lengthAdjust="spacingAndGlyphs">α-chain</text>
<text x="186.00" y="653.20" font-size="8.4" text-anchor="middle" textLength="18.90" lengthAdjust="spacingAndGlyphs">iC3b</text>
<text x="186.20" y="661.80" font-size="8.4" text-anchor="middle" textLength="29.90" lengthAdjust="spacingAndGlyphs">α-chain</text>
<text x="225.20" y="653.20" font-size="8.4" text-anchor="middle" textLength="28.10" lengthAdjust="spacingAndGlyphs">C3c α′-</text>
<text x="225.50" y="661.80" font-size="8.4" text-anchor="middle" textLength="27.50" lengthAdjust="spacingAndGlyphs">chain 2</text>
<text transform="translate(321.50,440.90) scale(1.1,1)" x="0" y="0" font-size="12.6" font-weight="bold" fill="#000">p</text>
<text x="409.40" y="442.60" font-size="8.4" textLength="39.70" lengthAdjust="spacingAndGlyphs">WT 24 mo</text>
<text x="469.70" y="442.60" font-size="8.4" textLength="67.50" lengthAdjust="spacingAndGlyphs">PLA2G7<tspan dy="-3" font-size="5.2">–/–</tspan><tspan dy="3"> 24 mo</tspan></text>
<text x="544.70" y="442.60" font-size="8.4" textLength="20.30" lengthAdjust="spacingAndGlyphs">(kDa)</text>
<line x1="392.40" y1="449.90" x2="464.40" y2="449.90" stroke="#231f20" stroke-width="1.0"/>
<line x1="467.70" y1="449.90" x2="539.60" y2="449.90" stroke="#231f20" stroke-width="1.0"/>
<linearGradient id="hspp" x1="0" x2="1" y1="0" y2="0">
<stop offset="0" stop-color="#a8a8a8"/><stop offset="0.35" stop-color="#b4b4b4"/><stop offset="0.6" stop-color="#9c9c9c"/><stop offset="1" stop-color="#a4a4a4"/>
</linearGradient>
<rect x="392.4" y="453.3" width="150.70000000000005" height="88.30000000000001" fill="#ececec" stroke="#333" stroke-width="1"/>
<rect x="397.00" y="459.65" width="20.00" height="3.30" rx="1.32" fill="#cfcfcf" opacity="0.45" filter="url(#blur2)"/>
<rect x="397.50" y="460.55" width="19.00" height="1.50" rx="0.60" fill="#cfcfcf" opacity="1.0" filter="url(#blur0)"/>
<rect x="421.10" y="459.65" width="20.00" height="3.30" rx="1.32" fill="#cdcdcd" opacity="0.45" filter="url(#blur2)"/>
<rect x="421.60" y="460.55" width="19.00" height="1.50" rx="0.60" fill="#cdcdcd" opacity="1.0" filter="url(#blur0)"/>
<rect x="445.10" y="459.65" width="20.00" height="3.30" rx="1.32" fill="#cdcdcd" opacity="0.45" filter="url(#blur2)"/>
<rect x="445.60" y="460.55" width="19.00" height="1.50" rx="0.60" fill="#cdcdcd" opacity="1.0" filter="url(#blur0)"/>
<rect x="469.50" y="459.65" width="20.00" height="3.30" rx="1.32" fill="#d4d4d4" opacity="0.45" filter="url(#blur2)"/>
<rect x="470.00" y="460.55" width="19.00" height="1.50" rx="0.60" fill="#d4d4d4" opacity="1.0" filter="url(#blur0)"/>
<rect x="493.50" y="459.65" width="20.00" height="3.30" rx="1.32" fill="#d4d4d4" opacity="0.45" filter="url(#blur2)"/>
<rect x="494.00" y="460.55" width="19.00" height="1.50" rx="0.60" fill="#d4d4d4" opacity="1.0" filter="url(#blur0)"/>
<rect x="517.20" y="459.65" width="20.00" height="3.30" rx="1.32" fill="#d2d2d2" opacity="0.45" filter="url(#blur2)"/>
<rect x="517.70" y="460.55" width="19.00" height="1.50" rx="0.60" fill="#d2d2d2" opacity="1.0" filter="url(#blur0)"/>
<rect x="396.50" y="468.40" width="21.00" height="6.00" rx="2.40" fill="#050505" opacity="0.45" filter="url(#blur2)"/>
<rect x="397.00" y="469.30" width="20.00" height="4.20" rx="1.68" fill="#050505" opacity="1.0" filter="url(#blur1)"/>
<rect x="420.60" y="468.40" width="21.00" height="6.00" rx="2.40" fill="#080808" opacity="0.45" filter="url(#blur2)"/>
<rect x="421.10" y="469.30" width="20.00" height="4.20" rx="1.68" fill="#080808" opacity="1.0" filter="url(#blur1)"/>
<rect x="444.60" y="468.30" width="21.00" height="6.20" rx="2.48" fill="#050505" opacity="0.45" filter="url(#blur2)"/>
<rect x="445.10" y="469.20" width="20.00" height="4.40" rx="1.76" fill="#050505" opacity="1.0" filter="url(#blur1)"/>
<rect x="469.00" y="469.20" width="21.00" height="4.40" rx="1.76" fill="#2e2e2e" opacity="0.45" filter="url(#blur2)"/>
<rect x="469.50" y="470.10" width="20.00" height="2.60" rx="1.04" fill="#2e2e2e" opacity="1.0" filter="url(#blur0)"/>
<rect x="493.00" y="469.20" width="21.00" height="4.40" rx="1.76" fill="#2a2a2a" opacity="0.45" filter="url(#blur2)"/>
<rect x="493.50" y="470.10" width="20.00" height="2.60" rx="1.04" fill="#2a2a2a" opacity="1.0" filter="url(#blur0)"/>
<rect x="516.70" y="469.20" width="21.00" height="4.40" rx="1.76" fill="#2e2e2e" opacity="0.45" filter="url(#blur2)"/>
<rect x="517.20" y="470.10" width="20.00" height="2.60" rx="1.04" fill="#2e2e2e" opacity="1.0" filter="url(#blur0)"/>
<rect x="396.50" y="491.30" width="21.00" height="5.40" rx="2.16" fill="#a6a6a6" opacity="0.45" filter="url(#blur2)"/>
<rect x="397.00" y="492.20" width="20.00" height="3.60" rx="1.44" fill="#a6a6a6" opacity="1.0" filter="url(#blur1)"/>
<rect x="420.60" y="491.30" width="21.00" height="5.40" rx="2.16" fill="#a2a2a2" opacity="0.45" filter="url(#blur2)"/>
<rect x="421.10" y="492.20" width="20.00" height="3.60" rx="1.44" fill="#a2a2a2" opacity="1.0" filter="url(#blur1)"/>
<rect x="444.60" y="491.30" width="21.00" height="5.40" rx="2.16" fill="#a6a6a6" opacity="0.45" filter="url(#blur2)"/>
<rect x="445.10" y="492.20" width="20.00" height="3.60" rx="1.44" fill="#a6a6a6" opacity="1.0" filter="url(#blur1)"/>
<rect x="469.00" y="491.60" width="21.00" height="4.80" rx="1.92" fill="#c2c2c2" opacity="0.45" filter="url(#blur2)"/>
<rect x="469.50" y="492.50" width="20.00" height="3.00" rx="1.20" fill="#c2c2c2" opacity="1.0" filter="url(#blur0)"/>
<rect x="493.00" y="491.60" width="21.00" height="4.80" rx="1.92" fill="#c0c0c0" opacity="0.45" filter="url(#blur2)"/>
<rect x="493.50" y="492.50" width="20.00" height="3.00" rx="1.20" fill="#c0c0c0" opacity="1.0" filter="url(#blur0)"/>
<rect x="516.70" y="491.60" width="21.00" height="4.80" rx="1.92" fill="#c2c2c2" opacity="0.45" filter="url(#blur2)"/>
<rect x="517.20" y="492.50" width="20.00" height="3.00" rx="1.20" fill="#c2c2c2" opacity="1.0" filter="url(#blur0)"/>
<rect x="396.75" y="524.40" width="20.50" height="5.20" rx="2.08" fill="#d2d2d2" opacity="0.45" filter="url(#blur2)"/>
<rect x="397.25" y="525.30" width="19.50" height="3.40" rx="1.36" fill="#d2d2d2" opacity="1.0" filter="url(#blur0)"/>
<rect x="420.85" y="524.40" width="20.50" height="5.20" rx="2.08" fill="#d4d4d4" opacity="0.45" filter="url(#blur2)"/>
<rect x="421.35" y="525.30" width="19.50" height="3.40" rx="1.36" fill="#d4d4d4" opacity="1.0" filter="url(#blur0)"/>
<rect x="444.85" y="524.40" width="20.50" height="5.20" rx="2.08" fill="#d4d4d4" opacity="0.45" filter="url(#blur2)"/>
<rect x="445.35" y="525.30" width="19.50" height="3.40" rx="1.36" fill="#d4d4d4" opacity="1.0" filter="url(#blur0)"/>
<rect x="469.25" y="524.40" width="20.50" height="5.20" rx="2.08" fill="#d6d6d6" opacity="0.45" filter="url(#blur2)"/>
<rect x="469.75" y="525.30" width="19.50" height="3.40" rx="1.36" fill="#d6d6d6" opacity="1.0" filter="url(#blur0)"/>
<rect x="493.25" y="524.40" width="20.50" height="5.20" rx="2.08" fill="#d8d8d8" opacity="0.45" filter="url(#blur2)"/>
<rect x="493.75" y="525.30" width="19.50" height="3.40" rx="1.36" fill="#d8d8d8" opacity="1.0" filter="url(#blur0)"/>
<rect x="516.95" y="524.40" width="20.50" height="5.20" rx="2.08" fill="#d6d6d6" opacity="0.45" filter="url(#blur2)"/>
<rect x="517.45" y="525.30" width="19.50" height="3.40" rx="1.36" fill="#d6d6d6" opacity="1.0" filter="url(#blur0)"/>
<rect x="392.4" y="545.1" width="150.70000000000005" height="18.100000000000023" fill="url(#hspp)" stroke="#333" stroke-width="1"/>
<rect x="395.50" y="551.10" width="22.00" height="5.80" rx="1.74" fill="#333" opacity="0.45" filter="url(#blur2)"/>
<rect x="396.00" y="552.00" width="21.00" height="4.00" rx="1.20" fill="#333" opacity="1.0" filter="url(#blur0)"/>
<rect x="419.80" y="551.30" width="22.00" height="5.40" rx="1.62" fill="#404040" opacity="0.45" filter="url(#blur2)"/>
<rect x="420.30" y="552.20" width="21.00" height="3.60" rx="1.08" fill="#404040" opacity="1.0" filter="url(#blur0)"/>
<rect x="444.20" y="550.90" width="22.00" height="6.20" rx="1.86" fill="#2a2a2a" opacity="0.45" filter="url(#blur2)"/>
<rect x="444.70" y="551.80" width="21.00" height="4.40" rx="1.32" fill="#2a2a2a" opacity="1.0" filter="url(#blur0)"/>
<rect x="467.40" y="550.50" width="22.00" height="7.00" rx="2.10" fill="#0a0a0a" opacity="0.45" filter="url(#blur2)"/>
<rect x="467.90" y="551.40" width="21.00" height="5.20" rx="1.56" fill="#0a0a0a" opacity="1.0" filter="url(#blur0)"/>
<rect x="492.00" y="550.30" width="22.00" height="7.40" rx="2.22" fill="#080808" opacity="0.45" filter="url(#blur2)"/>
<rect x="492.50" y="551.20" width="21.00" height="5.60" rx="1.68" fill="#080808" opacity="1.0" filter="url(#blur0)"/>
<rect x="515.80" y="550.60" width="22.00" height="6.80" rx="2.04" fill="#0f0f0f" opacity="0.45" filter="url(#blur2)"/>
<rect x="516.30" y="551.50" width="21.00" height="5.00" rx="1.50" fill="#0f0f0f" opacity="1.0" filter="url(#blur0)"/>
<line x1="467.10" y1="453.30" x2="467.10" y2="563.20" stroke="#333" stroke-width="1.2" stroke-dasharray="2.0 1.2"/>
<text x="377.00" y="464.30" font-size="8.4" text-anchor="end" textLength="10.40" lengthAdjust="spacingAndGlyphs">C3</text>
<text x="377.00" y="473.10" font-size="8.4" text-anchor="end" textLength="42.20" lengthAdjust="spacingAndGlyphs">C3 α-chain</text>
<text x="377.00" y="495.70" font-size="8.4" text-anchor="end" textLength="49.60" lengthAdjust="spacingAndGlyphs">iC3b α-chain</text>
<text x="377.00" y="525.80" font-size="8.4" text-anchor="end" textLength="49.60" lengthAdjust="spacingAndGlyphs">C3c α′-chain</text>
<text x="377.00" y="535.80" font-size="8.4" text-anchor="end" textLength="42.20" lengthAdjust="spacingAndGlyphs">fragment 2</text>
<text x="377.00" y="555.40" font-size="8.4" text-anchor="end" textLength="26.40" lengthAdjust="spacingAndGlyphs">HSP90</text>
<line x1="381.0" y1="461.3" x2="388.4" y2="461.3" stroke="#000" stroke-width="1.25"/>
<path d="M391.7,461.3 L387.2,459.0 L388.0,461.3 L387.2,463.6 Z" fill="#000"/>
<line x1="381.0" y1="470.8" x2="388.4" y2="470.8" stroke="#000" stroke-width="1.25"/>
<path d="M391.7,470.8 L387.2,468.5 L388.0,470.8 L387.2,473.1 Z" fill="#000"/>
<line x1="381.0" y1="494.0" x2="388.4" y2="494.0" stroke="#000" stroke-width="1.25"/>
<path d="M391.7,494.0 L387.2,491.7 L388.0,494.0 L387.2,496.3 Z" fill="#000"/>
<line x1="381.0" y1="528.4" x2="388.4" y2="528.4" stroke="#000" stroke-width="1.25"/>
<path d="M391.7,528.4 L387.2,526.1 L388.0,528.4 L387.2,530.6999999999999 Z" fill="#000"/>
<line x1="381.0" y1="552.6" x2="388.4" y2="552.6" stroke="#000" stroke-width="1.25"/>
<path d="M391.7,552.6 L387.2,550.3000000000001 L388.0,552.6 L387.2,554.9 Z" fill="#000"/>
<line x1="543.10" y1="465.30" x2="548.10" y2="465.30" stroke="#231f20" stroke-width="0.9"/>
<text x="552.70" y="468.04" font-size="7.6" textLength="12.10" lengthAdjust="spacingAndGlyphs">160</text>
<line x1="543.10" y1="478.00" x2="548.10" y2="478.00" stroke="#231f20" stroke-width="0.9"/>
<text x="552.70" y="480.74" font-size="7.6" textLength="12.10" lengthAdjust="spacingAndGlyphs">110</text>
<line x1="543.10" y1="496.60" x2="548.10" y2="496.60" stroke="#231f20" stroke-width="0.9"/>
<text x="552.70" y="499.34" font-size="7.6" textLength="8.20" lengthAdjust="spacingAndGlyphs">60</text>
<line x1="543.10" y1="525.80" x2="548.10" y2="525.80" stroke="#231f20" stroke-width="0.9"/>
<text x="552.70" y="528.54" font-size="7.6" textLength="8.20" lengthAdjust="spacingAndGlyphs">40</text>
<line x1="543.10" y1="556.90" x2="548.10" y2="556.90" stroke="#231f20" stroke-width="0.9"/>
<text x="552.70" y="559.64" font-size="7.6" textLength="8.20" lengthAdjust="spacingAndGlyphs">80</text>
<rect x="389.2" y="573.6" width="7.6" height="6.9" fill="none" stroke="#414042" stroke-width="0.7"/>
<text x="401.70" y="580.20" font-size="8.4" textLength="38.50" lengthAdjust="spacingAndGlyphs">WT 24 mo</text>
<rect x="452.1" y="573.6" width="7.4" height="6.9" fill="none" stroke="#ff4040" stroke-width="0.7"/>
<text x="463.70" y="580.20" font-size="8.4" textLength="66.00" lengthAdjust="spacingAndGlyphs">PLA2G7<tspan dy="-3" font-size="5.2">–/–</tspan><tspan dy="3"> 24 mo</tspan></text>
<line x1="384.20" y1="596.90" x2="384.20" y2="642.60" stroke="#6d6e71" stroke-width="0.75"/>
<line x1="381.20" y1="642.20" x2="384.20" y2="642.20" stroke="#6d6e71" stroke-width="0.75"/>
<text x="375.70" y="644.79" font-size="7.0" text-anchor="end">0</text>
<line x1="382.20" y1="634.72" x2="384.20" y2="634.72" stroke="#6d6e71" stroke-width="0.75"/>
<line x1="381.20" y1="627.23" x2="384.20" y2="627.23" stroke="#6d6e71" stroke-width="0.75"/>
<text x="375.70" y="629.82" font-size="7.0" text-anchor="end">0.5</text>
<line x1="382.20" y1="619.75" x2="384.20" y2="619.75" stroke="#6d6e71" stroke-width="0.75"/>
<line x1="381.20" y1="612.27" x2="384.20" y2="612.27" stroke="#6d6e71" stroke-width="0.75"/>
<text x="375.70" y="614.86" font-size="7.0" text-anchor="end">1.0</text>
<line x1="382.20" y1="604.78" x2="384.20" y2="604.78" stroke="#6d6e71" stroke-width="0.75"/>
<line x1="381.20" y1="597.30" x2="384.20" y2="597.30" stroke="#6d6e71" stroke-width="0.75"/>
<text x="375.70" y="599.89" font-size="7.0" text-anchor="end">1.5</text>
<line x1="384.00" y1="642.20" x2="542.00" y2="642.20" stroke="#6d6e71" stroke-width="0.75"/>
<text x="350.58" y="618.20" font-size="8.4" text-anchor="middle" textLength="72.10" lengthAdjust="spacingAndGlyphs" transform="rotate(-90 350.58 618.20)">HSP90 normalized</text>
<text x="361.98" y="618.00" font-size="8.4" text-anchor="middle" textLength="64.90" lengthAdjust="spacingAndGlyphs" transform="rotate(-90 361.98 618.00)">expression (a.u.)</text>
<circle cx="394.60" cy="613.50" r="1.3" fill="#000"/>
<circle cx="398.70" cy="611.50" r="1.3" fill="#000"/>
<circle cx="402.50" cy="612.50" r="1.3" fill="#000"/>
<line x1="393.20" y1="612.40" x2="404.20" y2="612.40" stroke="#000" stroke-width="0.7"/>
<line x1="398.70" y1="611.80" x2="398.70" y2="613.00" stroke="#000" stroke-width="0.7"/>
<line x1="395.90" y1="611.80" x2="401.50" y2="611.80" stroke="#000" stroke-width="0.7"/>
<line x1="395.90" y1="613.00" x2="401.50" y2="613.00" stroke="#000" stroke-width="0.7"/>
<circle cx="407.90" cy="627.50" r="1.3" fill="#ff1010"/>
<circle cx="411.50" cy="624.50" r="1.3" fill="#ff1010"/>
<circle cx="415.50" cy="626.50" r="1.3" fill="#ff1010"/>
<line x1="406.00" y1="626.20" x2="417.00" y2="626.20" stroke="#ff1010" stroke-width="0.7"/>
<line x1="411.50" y1="625.20" x2="411.50" y2="627.20" stroke="#ff1010" stroke-width="0.7"/>
<line x1="408.70" y1="625.20" x2="414.30" y2="625.20" stroke="#ff1010" stroke-width="0.7"/>
<line x1="408.70" y1="627.20" x2="414.30" y2="627.20" stroke="#ff1010" stroke-width="0.7"/>
<circle cx="432.80" cy="616.00" r="1.3" fill="#000"/>
<circle cx="437.00" cy="605.00" r="1.3" fill="#000"/>
<circle cx="441.00" cy="615.50" r="1.3" fill="#000"/>
<line x1="431.50" y1="612.50" x2="442.50" y2="612.50" stroke="#000" stroke-width="0.7"/>
<line x1="437.00" y1="608.30" x2="437.00" y2="617.00" stroke="#000" stroke-width="0.7"/>
<line x1="434.20" y1="608.30" x2="439.80" y2="608.30" stroke="#000" stroke-width="0.7"/>
<line x1="434.20" y1="617.00" x2="439.80" y2="617.00" stroke="#000" stroke-width="0.7"/>
<circle cx="445.50" cy="632.50" r="1.3" fill="#ff1010"/>
<circle cx="449.50" cy="631.50" r="1.3" fill="#ff1010"/>
<circle cx="453.50" cy="632.50" r="1.3" fill="#ff1010"/>
<line x1="444.00" y1="632.20" x2="455.00" y2="632.20" stroke="#ff1010" stroke-width="0.7"/>
<line x1="449.50" y1="631.80" x2="449.50" y2="632.60" stroke="#ff1010" stroke-width="0.7"/>
<line x1="446.70" y1="631.80" x2="452.30" y2="631.80" stroke="#ff1010" stroke-width="0.7"/>
<line x1="446.70" y1="632.60" x2="452.30" y2="632.60" stroke="#ff1010" stroke-width="0.7"/>
<circle cx="473.70" cy="607.70" r="1.3" fill="#000"/>
<circle cx="473.70" cy="612.50" r="1.3" fill="#000"/>
<circle cx="473.70" cy="616.50" r="1.3" fill="#000"/>
<line x1="468.20" y1="612.10" x2="479.20" y2="612.10" stroke="#000" stroke-width="0.7"/>
<line x1="473.70" y1="609.80" x2="473.70" y2="614.50" stroke="#000" stroke-width="0.7"/>
<line x1="470.90" y1="609.80" x2="476.50" y2="609.80" stroke="#000" stroke-width="0.7"/>
<line x1="470.90" y1="614.50" x2="476.50" y2="614.50" stroke="#000" stroke-width="0.7"/>
<circle cx="482.60" cy="631.30" r="1.3" fill="#ff1010"/>
<circle cx="487.00" cy="630.00" r="1.3" fill="#ff1010"/>
<circle cx="491.50" cy="631.00" r="1.3" fill="#ff1010"/>
<line x1="481.50" y1="630.80" x2="492.50" y2="630.80" stroke="#ff1010" stroke-width="0.7"/>
<line x1="487.00" y1="630.30" x2="487.00" y2="631.30" stroke="#ff1010" stroke-width="0.7"/>
<line x1="484.20" y1="630.30" x2="489.80" y2="630.30" stroke="#ff1010" stroke-width="0.7"/>
<line x1="484.20" y1="631.30" x2="489.80" y2="631.30" stroke="#ff1010" stroke-width="0.7"/>
<circle cx="511.70" cy="608.00" r="1.3" fill="#000"/>
<circle cx="511.70" cy="612.00" r="1.3" fill="#000"/>
<circle cx="511.70" cy="617.50" r="1.3" fill="#000"/>
<line x1="506.20" y1="612.40" x2="517.20" y2="612.40" stroke="#000" stroke-width="0.7"/>
<line x1="511.70" y1="609.80" x2="511.70" y2="615.00" stroke="#000" stroke-width="0.7"/>
<line x1="508.90" y1="609.80" x2="514.50" y2="609.80" stroke="#000" stroke-width="0.7"/>
<line x1="508.90" y1="615.00" x2="514.50" y2="615.00" stroke="#000" stroke-width="0.7"/>
<circle cx="520.70" cy="622.50" r="1.3" fill="#ff1010"/>
<circle cx="525.00" cy="621.50" r="1.3" fill="#ff1010"/>
<circle cx="529.20" cy="622.50" r="1.3" fill="#ff1010"/>
<line x1="519.50" y1="622.20" x2="530.50" y2="622.20" stroke="#ff1010" stroke-width="0.7"/>
<line x1="525.00" y1="621.80" x2="525.00" y2="622.60" stroke="#ff1010" stroke-width="0.7"/>
<line x1="522.20" y1="621.80" x2="527.80" y2="621.80" stroke="#ff1010" stroke-width="0.7"/>
<line x1="522.20" y1="622.60" x2="527.80" y2="622.60" stroke="#ff1010" stroke-width="0.7"/>
<line x1="396.90" y1="604.30" x2="412.70" y2="604.30" stroke="#414042" stroke-width="0.9"/>
<line x1="396.90" y1="603.00" x2="396.90" y2="605.60" stroke="#414042" stroke-width="0.9"/>
<line x1="412.70" y1="603.00" x2="412.70" y2="605.60" stroke="#414042" stroke-width="0.9"/>
<text x="394.10" y="600.10" font-size="6.8" fill="#2b2829" textLength="26.00" lengthAdjust="spacingAndGlyphs">0.0004</text>
<line x1="434.50" y1="599.50" x2="450.40" y2="599.50" stroke="#414042" stroke-width="0.9"/>
<line x1="434.50" y1="598.20" x2="434.50" y2="600.80" stroke="#414042" stroke-width="0.9"/>
<line x1="450.40" y1="598.20" x2="450.40" y2="600.80" stroke="#414042" stroke-width="0.9"/>
<text x="433.90" y="594.40" font-size="6.8" fill="#2b2829" textLength="20.90" lengthAdjust="spacingAndGlyphs">0.005</text>
<line x1="472.40" y1="601.40" x2="488.90" y2="601.40" stroke="#414042" stroke-width="0.9"/>
<line x1="472.40" y1="600.10" x2="472.40" y2="602.70" stroke="#414042" stroke-width="0.9"/>
<line x1="488.90" y1="600.10" x2="488.90" y2="602.70" stroke="#414042" stroke-width="0.9"/>
<text x="471.40" y="597.30" font-size="6.8" fill="#2b2829" textLength="20.70" lengthAdjust="spacingAndGlyphs">0.002</text>
<line x1="509.80" y1="601.40" x2="525.90" y2="601.40" stroke="#414042" stroke-width="0.9"/>
<line x1="509.80" y1="600.10" x2="509.80" y2="602.70" stroke="#414042" stroke-width="0.9"/>
<line x1="525.90" y1="600.10" x2="525.90" y2="602.70" stroke="#414042" stroke-width="0.9"/>
<text x="508.80" y="597.30" font-size="6.8" fill="#2b2829" textLength="19.40" lengthAdjust="spacingAndGlyphs">0.024</text>
<text x="404.10" y="652.70" font-size="8.4" text-anchor="middle" textLength="11.40" lengthAdjust="spacingAndGlyphs">C3</text>
<text x="443.00" y="652.70" font-size="8.4" text-anchor="middle" textLength="11.40" lengthAdjust="spacingAndGlyphs">C3</text>
<text x="443.00" y="661.80" font-size="8.4" text-anchor="middle" textLength="29.50" lengthAdjust="spacingAndGlyphs">α-chain</text>
<text x="480.40" y="652.70" font-size="8.4" text-anchor="middle" textLength="18.90" lengthAdjust="spacingAndGlyphs">iC3b</text>
<text x="480.40" y="661.80" font-size="8.4" text-anchor="middle" textLength="30.30" lengthAdjust="spacingAndGlyphs">α-chain</text>
<text x="518.20" y="652.70" font-size="8.4" text-anchor="middle" textLength="28.50" lengthAdjust="spacingAndGlyphs">C3c α′-</text>
<text x="518.20" y="661.80" font-size="8.4" text-anchor="middle" textLength="28.50" lengthAdjust="spacingAndGlyphs">chain 2</text>
</svg></body></html>
